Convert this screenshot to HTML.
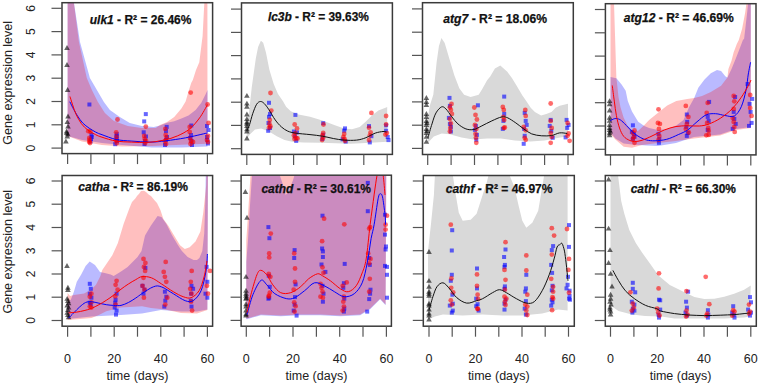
<!DOCTYPE html>
<html><head><meta charset="utf-8"><style>
html,body{margin:0;padding:0;background:#fff;width:760px;height:386px;overflow:hidden;position:relative}
</style></head><body>
<svg width="760" height="386" viewBox="0 0 760 386" style="position:absolute;left:0;top:0">
<defs>
<clipPath id="c0"><rect x="62" y="2.7" width="150.6" height="150.9"/></clipPath>
<clipPath id="c1"><rect x="241.5" y="2.9" width="150.89999999999998" height="151.5"/></clipPath>
<clipPath id="c2"><rect x="422.5" y="2.7" width="150.79999999999995" height="151.8"/></clipPath>
<clipPath id="c3"><rect x="605.4" y="3.7" width="150.60000000000002" height="151.20000000000002"/></clipPath>
<clipPath id="c4"><rect x="62.1" y="175.5" width="150.5" height="150.7"/></clipPath>
<clipPath id="c5"><rect x="241.1" y="175.2" width="150.29999999999998" height="151.0"/></clipPath>
<clipPath id="c6"><rect x="423.3" y="175.5" width="150.99999999999994" height="150.7"/></clipPath>
<clipPath id="c7"><rect x="605.3" y="175.5" width="151.0" height="150.7"/></clipPath>
</defs>
<polygon points="67.6,-20.0 73.0,-20.0 74.0,3.0 80.0,42.0 89.9,78.0 96.9,90.0 103.9,102.0 109.9,110.0 119.8,117.0 129.8,123.0 141.8,126.0 153.8,127.0 160.0,125.6 167.1,122.7 174.2,121.3 181.4,118.5 188.5,115.6 195.6,109.9 201.3,102.8 205.6,94.2 207.5,90.0 207.5,146.5 181.7,147.5 151.8,147.5 121.8,145.0 101.9,143.0 82.0,140.0 67.6,136.0" fill="rgba(0,0,255,0.27)" clip-path="url(#c0)"/>
<polygon points="67.6,-20.0 73.0,-20.0 73.9,3.0 78.9,41.7 86.8,78.0 91.9,90.0 97.9,102.0 104.9,112.9 113.9,120.9 127.8,125.9 141.8,127.9 155.8,127.9 160.0,124.9 167.1,122.0 174.2,117.0 181.4,108.5 185.6,101.4 188.5,91.4 191.3,82.8 192.8,80.0 196.0,70.0 199.3,62.2 202.6,35.9 204.3,3.0 205.5,-20.0 207.4,-20.0 207.5,143.8 181.7,144.8 151.8,146.0 121.8,146.5 101.9,145.0 82.0,141.5 67.6,136.0" fill="rgba(255,0,0,0.25)" clip-path="url(#c0)"/>
<polygon points="67.0,45.1 69.8,50.0 64.2,50.0" fill="rgba(0,0,0,0.6)"/>
<polygon points="67.0,62.1 69.8,67.0 64.2,67.0" fill="rgba(0,0,0,0.6)"/>
<polygon points="67.6,87.1 70.4,92.0 64.8,92.0" fill="rgba(0,0,0,0.6)"/>
<polygon points="68.0,113.5 70.8,118.4 65.2,118.4" fill="rgba(0,0,0,0.6)"/>
<polygon points="67.3,119.2 70.1,124.1 64.5,124.1" fill="rgba(0,0,0,0.6)"/>
<polygon points="68.0,123.5 70.8,128.4 65.2,128.4" fill="rgba(0,0,0,0.6)"/>
<polygon points="66.6,128.5 69.4,133.4 63.8,133.4" fill="rgba(0,0,0,0.6)"/>
<polygon points="67.7,131.4 70.5,136.3 64.9,136.3" fill="rgba(0,0,0,0.6)"/>
<polygon points="67.3,133.5 70.1,138.4 64.5,138.4" fill="rgba(0,0,0,0.6)"/>
<polygon points="66.8,130.1 69.6,135.0 64.0,135.0" fill="rgba(0,0,0,0.6)"/>
<polygon points="65.9,138.5 68.7,143.4 63.1,143.4" fill="rgba(0,0,0,0.6)"/>
<rect x="87.4" y="102.5" width="4" height="4" fill="rgba(0,0,255,0.6)"/>
<rect x="89.4" y="133.0" width="4" height="4" fill="rgba(0,0,255,0.6)"/>
<rect x="89.8" y="135.0" width="4" height="4" fill="rgba(0,0,255,0.6)"/>
<rect x="89.0" y="137.0" width="4" height="4" fill="rgba(0,0,255,0.6)"/>
<rect x="88.5" y="139.5" width="4" height="4" fill="rgba(0,0,255,0.6)"/>
<rect x="114.8" y="132.3" width="4" height="4" fill="rgba(0,0,255,0.6)"/>
<rect x="114.5" y="134.0" width="4" height="4" fill="rgba(0,0,255,0.6)"/>
<rect x="114.8" y="136.5" width="4" height="4" fill="rgba(0,0,255,0.6)"/>
<rect x="113.2" y="142.2" width="4" height="4" fill="rgba(0,0,255,0.6)"/>
<rect x="115.0" y="139.0" width="4" height="4" fill="rgba(0,0,255,0.6)"/>
<rect x="143.8" y="112.1" width="4" height="4" fill="rgba(0,0,255,0.6)"/>
<rect x="142.2" y="119.4" width="4" height="4" fill="rgba(0,0,255,0.6)"/>
<rect x="141.7" y="130.3" width="4" height="4" fill="rgba(0,0,255,0.6)"/>
<rect x="144.0" y="134.5" width="4" height="4" fill="rgba(0,0,255,0.6)"/>
<rect x="143.0" y="139.0" width="4" height="4" fill="rgba(0,0,255,0.6)"/>
<rect x="142.5" y="142.0" width="4" height="4" fill="rgba(0,0,255,0.6)"/>
<rect x="164.7" y="124.9" width="4" height="4" fill="rgba(0,0,255,0.6)"/>
<rect x="164.0" y="129.0" width="4" height="4" fill="rgba(0,0,255,0.6)"/>
<rect x="164.0" y="138.0" width="4" height="4" fill="rgba(0,0,255,0.6)"/>
<rect x="163.0" y="143.0" width="4" height="4" fill="rgba(0,0,255,0.6)"/>
<rect x="165.0" y="135.0" width="4" height="4" fill="rgba(0,0,255,0.6)"/>
<rect x="189.3" y="123.5" width="4" height="4" fill="rgba(0,0,255,0.6)"/>
<rect x="189.0" y="133.0" width="4" height="4" fill="rgba(0,0,255,0.6)"/>
<rect x="189.5" y="139.0" width="4" height="4" fill="rgba(0,0,255,0.6)"/>
<rect x="190.0" y="143.0" width="4" height="4" fill="rgba(0,0,255,0.6)"/>
<rect x="188.5" y="136.0" width="4" height="4" fill="rgba(0,0,255,0.6)"/>
<rect x="205.0" y="124.0" width="4" height="4" fill="rgba(0,0,255,0.6)"/>
<rect x="206.5" y="128.0" width="4" height="4" fill="rgba(0,0,255,0.6)"/>
<rect x="205.5" y="138.0" width="4" height="4" fill="rgba(0,0,255,0.6)"/>
<rect x="206.0" y="141.5" width="4" height="4" fill="rgba(0,0,255,0.6)"/>
<rect x="205.0" y="135.0" width="4" height="4" fill="rgba(0,0,255,0.6)"/>
<circle cx="88.3" cy="131.2" r="2.4" fill="rgba(255,0,0,0.58)"/>
<circle cx="90.4" cy="131.7" r="2.4" fill="rgba(255,0,0,0.58)"/>
<circle cx="89.3" cy="138.0" r="2.4" fill="rgba(255,0,0,0.58)"/>
<circle cx="89.5" cy="140.0" r="2.4" fill="rgba(255,0,0,0.58)"/>
<circle cx="89.3" cy="142.0" r="2.4" fill="rgba(255,0,0,0.58)"/>
<circle cx="90.0" cy="143.0" r="2.4" fill="rgba(255,0,0,0.58)"/>
<circle cx="117.5" cy="119.5" r="2.4" fill="rgba(255,0,0,0.58)"/>
<circle cx="116.2" cy="132.3" r="2.4" fill="rgba(255,0,0,0.58)"/>
<circle cx="116.5" cy="137.0" r="2.4" fill="rgba(255,0,0,0.58)"/>
<circle cx="116.8" cy="143.1" r="2.4" fill="rgba(255,0,0,0.58)"/>
<circle cx="116.0" cy="140.5" r="2.4" fill="rgba(255,0,0,0.58)"/>
<circle cx="145.8" cy="126.6" r="2.4" fill="rgba(255,0,0,0.58)"/>
<circle cx="144.2" cy="135.9" r="2.4" fill="rgba(255,0,0,0.58)"/>
<circle cx="144.7" cy="139.0" r="2.4" fill="rgba(255,0,0,0.58)"/>
<circle cx="145.2" cy="143.1" r="2.4" fill="rgba(255,0,0,0.58)"/>
<circle cx="146.0" cy="141.0" r="2.4" fill="rgba(255,0,0,0.58)"/>
<circle cx="165.3" cy="128.9" r="2.4" fill="rgba(255,0,0,0.58)"/>
<circle cx="165.7" cy="134.9" r="2.4" fill="rgba(255,0,0,0.58)"/>
<circle cx="165.0" cy="141.0" r="2.4" fill="rgba(255,0,0,0.58)"/>
<circle cx="166.0" cy="144.0" r="2.4" fill="rgba(255,0,0,0.58)"/>
<circle cx="166.5" cy="138.0" r="2.4" fill="rgba(255,0,0,0.58)"/>
<circle cx="190.7" cy="92.6" r="2.4" fill="rgba(255,0,0,0.58)"/>
<circle cx="189.7" cy="126.9" r="2.4" fill="rgba(255,0,0,0.58)"/>
<circle cx="189.7" cy="132.0" r="2.4" fill="rgba(255,0,0,0.58)"/>
<circle cx="190.0" cy="138.0" r="2.4" fill="rgba(255,0,0,0.58)"/>
<circle cx="191.0" cy="141.0" r="2.4" fill="rgba(255,0,0,0.58)"/>
<circle cx="193.0" cy="142.0" r="2.4" fill="rgba(255,0,0,0.58)"/>
<circle cx="190.5" cy="144.0" r="2.4" fill="rgba(255,0,0,0.58)"/>
<circle cx="207.6" cy="104.5" r="2.4" fill="rgba(255,0,0,0.58)"/>
<circle cx="208.6" cy="122.9" r="2.4" fill="rgba(255,0,0,0.58)"/>
<circle cx="208.0" cy="136.0" r="2.4" fill="rgba(255,0,0,0.58)"/>
<circle cx="207.0" cy="140.0" r="2.4" fill="rgba(255,0,0,0.58)"/>
<circle cx="208.0" cy="142.0" r="2.4" fill="rgba(255,0,0,0.58)"/>
<path d="M69.8,101.7 C70.5,103.0 72.4,107.0 73.7,109.4 C75.0,111.8 76.0,113.6 77.5,115.9 C79.0,118.2 80.8,121.0 82.7,123.0 C84.7,125.0 87.0,126.7 89.2,128.2 C91.4,129.7 93.6,131.0 95.7,132.1 C97.8,133.2 98.6,133.5 102.0,134.7 C105.4,135.9 111.2,138.4 116.2,139.5 C121.2,140.6 126.2,140.7 131.8,141.1 C137.4,141.5 144.3,142.1 150.0,142.1 C155.7,142.1 159.8,141.5 165.7,140.8 C171.6,140.1 178.7,139.1 185.7,137.8 C192.7,136.5 203.9,133.7 207.6,132.9" fill="none" stroke="#0000ff" stroke-width="1.0" stroke-linejoin="round" clip-path="url(#c0)"/>
<path d="M70.0,96.5 C70.4,97.8 71.4,101.2 72.4,104.2 C73.4,107.2 74.7,111.3 76.2,114.6 C77.7,117.8 79.5,121.1 81.4,123.7 C83.4,126.3 85.5,128.3 87.9,130.1 C90.3,131.9 93.4,133.5 95.7,134.7 C98.0,135.9 98.6,136.1 102.0,137.2 C105.4,138.3 111.2,140.3 116.2,141.1 C121.2,141.9 126.5,141.9 131.8,142.1 C137.1,142.3 142.5,142.7 147.8,142.4 C153.1,142.1 158.7,141.3 163.7,140.2 C168.7,139.1 173.4,137.7 177.7,135.8 C182.0,133.9 186.0,131.9 189.7,128.9 C193.3,125.9 196.6,122.0 199.6,117.9 C202.6,113.8 206.3,106.7 207.6,104.5" fill="none" stroke="#ff0000" stroke-width="1.0" stroke-linejoin="round" clip-path="url(#c0)"/>
<rect x="62" y="2.7" width="150.6" height="150.9" fill="none" stroke="#3a3a3a" stroke-width="1.5"/>
<line x1="51.5" y1="148.1" x2="62" y2="148.1" stroke="#555" stroke-width="1.2"/>
<line x1="51.5" y1="124.8" x2="62" y2="124.8" stroke="#555" stroke-width="1.2"/>
<line x1="51.5" y1="101.5" x2="62" y2="101.5" stroke="#555" stroke-width="1.2"/>
<line x1="51.5" y1="78.2" x2="62" y2="78.2" stroke="#555" stroke-width="1.2"/>
<line x1="51.5" y1="54.9" x2="62" y2="54.9" stroke="#555" stroke-width="1.2"/>
<line x1="51.5" y1="31.6" x2="62" y2="31.6" stroke="#555" stroke-width="1.2"/>
<line x1="51.5" y1="8.3" x2="62" y2="8.3" stroke="#555" stroke-width="1.2"/>
<line x1="67.6" y1="153.6" x2="67.6" y2="164.1" stroke="#555" stroke-width="1.2"/>
<line x1="90.9" y1="153.6" x2="90.9" y2="164.1" stroke="#555" stroke-width="1.2"/>
<line x1="114.2" y1="153.6" x2="114.2" y2="164.1" stroke="#555" stroke-width="1.2"/>
<line x1="137.5" y1="153.6" x2="137.5" y2="164.1" stroke="#555" stroke-width="1.2"/>
<line x1="160.8" y1="153.6" x2="160.8" y2="164.1" stroke="#555" stroke-width="1.2"/>
<line x1="184.1" y1="153.6" x2="184.1" y2="164.1" stroke="#555" stroke-width="1.2"/>
<line x1="207.4" y1="153.6" x2="207.4" y2="164.1" stroke="#555" stroke-width="1.2"/>
<text x="89.8" y="24" textLength="101.6" lengthAdjust="spacingAndGlyphs" font-family="Liberation Sans" font-weight="bold" font-size="12.4" fill="#111" stroke="#111" stroke-width="0.25"><tspan font-style="italic">ulk1</tspan> - R² = 26.46%</text>
<polygon points="246.8,135.0 247.5,120.0 249.0,112.5 251.8,86.9 253.8,72.7 255.8,58.4 258.1,47.1 260.9,40.8 263.2,42.8 266.0,52.7 269.4,69.8 273.7,84.0 278.0,94.0 283.0,101.2 286.1,106.7 290.8,111.3 298.5,114.4 310.0,116.8 322.4,120.6 334.9,125.3 344.2,128.4 352.0,129.2 359.7,126.9 365.9,121.4 372.2,115.2 378.4,110.5 386.1,107.4 387.2,107.0 387.2,141.8 370.7,142.8 350.7,143.8 320.8,142.8 303.2,142.4 292.3,141.7 284.5,140.1 276.8,136.2 269.0,131.5 261.2,128.4 255.0,129.5 250.3,133.9 246.8,138.5" fill="#d9d9d9" clip-path="url(#c1)"/>
<polygon points="246.9,92.9 249.7,97.8 244.1,97.8" fill="rgba(0,0,0,0.6)"/>
<polygon points="246.9,100.7 249.7,105.6 244.1,105.6" fill="rgba(0,0,0,0.6)"/>
<polygon points="246.9,103.8 249.7,108.7 244.1,108.7" fill="rgba(0,0,0,0.6)"/>
<polygon points="246.9,111.5 249.7,116.4 244.1,116.4" fill="rgba(0,0,0,0.6)"/>
<polygon points="246.9,116.2 249.7,121.1 244.1,121.1" fill="rgba(0,0,0,0.6)"/>
<polygon points="246.9,119.3 249.7,124.2 244.1,124.2" fill="rgba(0,0,0,0.6)"/>
<polygon points="246.9,120.9 249.7,125.8 244.1,125.8" fill="rgba(0,0,0,0.6)"/>
<polygon points="246.9,123.2 249.7,128.1 244.1,128.1" fill="rgba(0,0,0,0.6)"/>
<polygon points="246.9,126.3 249.7,131.2 244.1,131.2" fill="rgba(0,0,0,0.6)"/>
<polygon points="246.9,128.6 249.7,133.5 244.1,133.5" fill="rgba(0,0,0,0.6)"/>
<polygon points="246.9,135.6 249.7,140.5 244.1,140.5" fill="rgba(0,0,0,0.6)"/>
<rect x="267.0" y="100.8" width="4" height="4" fill="rgba(0,0,255,0.6)"/>
<rect x="268.0" y="112.0" width="4" height="4" fill="rgba(0,0,255,0.6)"/>
<rect x="267.0" y="114.8" width="4" height="4" fill="rgba(0,0,255,0.6)"/>
<rect x="266.5" y="121.0" width="4" height="4" fill="rgba(0,0,255,0.6)"/>
<rect x="266.2" y="128.8" width="4" height="4" fill="rgba(0,0,255,0.6)"/>
<rect x="268.0" y="126.0" width="4" height="4" fill="rgba(0,0,255,0.6)"/>
<rect x="293.4" y="112.9" width="4" height="4" fill="rgba(0,0,255,0.6)"/>
<rect x="291.9" y="129.5" width="4" height="4" fill="rgba(0,0,255,0.6)"/>
<rect x="295.0" y="130.5" width="4" height="4" fill="rgba(0,0,255,0.6)"/>
<rect x="293.0" y="134.5" width="4" height="4" fill="rgba(0,0,255,0.6)"/>
<rect x="294.2" y="138.9" width="4" height="4" fill="rgba(0,0,255,0.6)"/>
<rect x="321.2" y="121.2" width="4" height="4" fill="rgba(0,0,255,0.6)"/>
<rect x="321.2" y="132.6" width="4" height="4" fill="rgba(0,0,255,0.6)"/>
<rect x="320.4" y="137.0" width="4" height="4" fill="rgba(0,0,255,0.6)"/>
<rect x="343.0" y="126.4" width="4" height="4" fill="rgba(0,0,255,0.6)"/>
<rect x="342.2" y="128.7" width="4" height="4" fill="rgba(0,0,255,0.6)"/>
<rect x="340.6" y="137.3" width="4" height="4" fill="rgba(0,0,255,0.6)"/>
<rect x="343.7" y="139.6" width="4" height="4" fill="rgba(0,0,255,0.6)"/>
<rect x="367.0" y="124.1" width="4" height="4" fill="rgba(0,0,255,0.6)"/>
<rect x="369.4" y="134.2" width="4" height="4" fill="rgba(0,0,255,0.6)"/>
<rect x="367.8" y="140.4" width="4" height="4" fill="rgba(0,0,255,0.6)"/>
<rect x="384.1" y="123.3" width="4" height="4" fill="rgba(0,0,255,0.6)"/>
<rect x="384.1" y="128.7" width="4" height="4" fill="rgba(0,0,255,0.6)"/>
<rect x="385.7" y="135.0" width="4" height="4" fill="rgba(0,0,255,0.6)"/>
<rect x="386.5" y="138.1" width="4" height="4" fill="rgba(0,0,255,0.6)"/>
<circle cx="270.5" cy="93.0" r="2.4" fill="rgba(255,0,0,0.58)"/>
<circle cx="271.3" cy="110.6" r="2.4" fill="rgba(255,0,0,0.58)"/>
<circle cx="269.8" cy="119.9" r="2.4" fill="rgba(255,0,0,0.58)"/>
<circle cx="269.0" cy="127.7" r="2.4" fill="rgba(255,0,0,0.58)"/>
<circle cx="270.5" cy="126.5" r="2.4" fill="rgba(255,0,0,0.58)"/>
<circle cx="269.5" cy="124.0" r="2.4" fill="rgba(255,0,0,0.58)"/>
<circle cx="294.7" cy="124.5" r="2.4" fill="rgba(255,0,0,0.58)"/>
<circle cx="297.0" cy="128.4" r="2.4" fill="rgba(255,0,0,0.58)"/>
<circle cx="295.4" cy="133.1" r="2.4" fill="rgba(255,0,0,0.58)"/>
<circle cx="293.9" cy="135.4" r="2.4" fill="rgba(255,0,0,0.58)"/>
<circle cx="296.2" cy="137.8" r="2.4" fill="rgba(255,0,0,0.58)"/>
<circle cx="297.5" cy="138.5" r="2.4" fill="rgba(255,0,0,0.58)"/>
<circle cx="294.5" cy="139.0" r="2.4" fill="rgba(255,0,0,0.58)"/>
<circle cx="323.5" cy="124.5" r="2.4" fill="rgba(255,0,0,0.58)"/>
<circle cx="323.2" cy="133.0" r="2.4" fill="rgba(255,0,0,0.58)"/>
<circle cx="322.4" cy="135.4" r="2.4" fill="rgba(255,0,0,0.58)"/>
<circle cx="323.2" cy="137.7" r="2.4" fill="rgba(255,0,0,0.58)"/>
<circle cx="322.1" cy="140.0" r="2.4" fill="rgba(255,0,0,0.58)"/>
<circle cx="344.2" cy="133.9" r="2.4" fill="rgba(255,0,0,0.58)"/>
<circle cx="343.4" cy="137.0" r="2.4" fill="rgba(255,0,0,0.58)"/>
<circle cx="345.0" cy="140.8" r="2.4" fill="rgba(255,0,0,0.58)"/>
<circle cx="344.5" cy="139.0" r="2.4" fill="rgba(255,0,0,0.58)"/>
<circle cx="371.4" cy="112.9" r="2.4" fill="rgba(255,0,0,0.58)"/>
<circle cx="369.0" cy="127.7" r="2.4" fill="rgba(255,0,0,0.58)"/>
<circle cx="370.6" cy="132.3" r="2.4" fill="rgba(255,0,0,0.58)"/>
<circle cx="369.8" cy="135.4" r="2.4" fill="rgba(255,0,0,0.58)"/>
<circle cx="369.0" cy="140.1" r="2.4" fill="rgba(255,0,0,0.58)"/>
<circle cx="386.1" cy="116.0" r="2.4" fill="rgba(255,0,0,0.58)"/>
<circle cx="386.1" cy="124.5" r="2.4" fill="rgba(255,0,0,0.58)"/>
<circle cx="386.9" cy="133.1" r="2.4" fill="rgba(255,0,0,0.58)"/>
<circle cx="385.4" cy="134.6" r="2.4" fill="rgba(255,0,0,0.58)"/>
<path d="M247.2,130.0 C247.6,129.1 248.7,127.2 249.6,124.5 C250.5,121.8 251.5,117.1 252.7,113.7 C253.9,110.3 255.3,106.3 256.6,104.3 C257.9,102.3 259.1,101.6 260.4,101.5 C261.7,101.4 262.9,102.2 264.3,103.6 C265.7,105.0 267.2,107.1 269.0,109.8 C270.8,112.5 273.1,117.1 275.2,119.9 C277.3,122.8 279.3,125.0 281.4,126.9 C283.5,128.8 285.4,130.1 287.7,131.1 C290.0,132.1 291.7,132.5 295.4,133.1 C299.1,133.7 305.5,134.1 310.0,134.6 C314.5,135.1 318.5,135.5 322.4,136.2 C326.3,136.8 329.7,137.8 333.3,138.5 C336.9,139.2 340.3,139.8 344.2,140.1 C348.1,140.4 353.0,140.5 356.6,140.1 C360.2,139.7 362.8,138.9 365.9,137.7 C369.0,136.5 372.4,134.1 375.3,133.1 C378.2,132.1 381.1,131.7 383.0,131.5 C384.9,131.3 385.9,131.9 386.5,132.0" fill="none" stroke="#111" stroke-width="1.0" stroke-linejoin="round" clip-path="url(#c1)"/>
<rect x="241.5" y="2.9" width="150.89999999999998" height="151.5" fill="none" stroke="#3a3a3a" stroke-width="1.5"/>
<line x1="231.0" y1="148.7" x2="241.5" y2="148.7" stroke="#555" stroke-width="1.2"/>
<line x1="231.0" y1="125.4" x2="241.5" y2="125.4" stroke="#555" stroke-width="1.2"/>
<line x1="231.0" y1="102.2" x2="241.5" y2="102.2" stroke="#555" stroke-width="1.2"/>
<line x1="231.0" y1="78.9" x2="241.5" y2="78.9" stroke="#555" stroke-width="1.2"/>
<line x1="231.0" y1="55.6" x2="241.5" y2="55.6" stroke="#555" stroke-width="1.2"/>
<line x1="231.0" y1="32.4" x2="241.5" y2="32.4" stroke="#555" stroke-width="1.2"/>
<line x1="231.0" y1="9.1" x2="241.5" y2="9.1" stroke="#555" stroke-width="1.2"/>
<line x1="246.8" y1="154.4" x2="246.8" y2="164.9" stroke="#555" stroke-width="1.2"/>
<line x1="270.2" y1="154.4" x2="270.2" y2="164.9" stroke="#555" stroke-width="1.2"/>
<line x1="293.6" y1="154.4" x2="293.6" y2="164.9" stroke="#555" stroke-width="1.2"/>
<line x1="317.0" y1="154.4" x2="317.0" y2="164.9" stroke="#555" stroke-width="1.2"/>
<line x1="340.4" y1="154.4" x2="340.4" y2="164.9" stroke="#555" stroke-width="1.2"/>
<line x1="363.8" y1="154.4" x2="363.8" y2="164.9" stroke="#555" stroke-width="1.2"/>
<line x1="387.2" y1="154.4" x2="387.2" y2="164.9" stroke="#555" stroke-width="1.2"/>
<text x="267.9" y="21" textLength="101" lengthAdjust="spacingAndGlyphs" font-family="Liberation Sans" font-weight="bold" font-size="12.4" fill="#111" stroke="#111" stroke-width="0.25"><tspan font-style="italic">lc3b</tspan> - R² = 39.63%</text>
<polygon points="427.7,118.0 430.0,105.0 433.3,94.8 436.6,62.4 438.9,46.2 441.4,38.1 444.7,43.0 449.5,59.2 454.4,75.4 459.3,88.3 464.1,94.8 470.6,97.1 478.7,94.8 482.4,88.8 487.1,80.3 490.2,76.4 494.9,68.6 500.3,65.5 507.3,71.7 511.9,78.0 516.2,85.0 519.3,90.2 522.4,95.4 526.6,101.6 530.7,107.8 534.9,111.9 541.1,115.6 546.3,114.0 551.5,111.9 555.6,107.8 559.7,105.7 563.9,104.7 568.0,103.7 568.0,136.6 560.1,137.6 544.4,140.5 530.5,141.5 514.8,140.5 500.9,138.6 487.1,138.6 473.3,139.5 461.5,137.6 449.6,134.2 441.7,133.6 433.8,136.6 427.7,143.0" fill="#d9d9d9" clip-path="url(#c2)"/>
<polygon points="426.4,95.0 429.2,99.9 423.6,99.9" fill="rgba(0,0,0,0.6)"/>
<polygon points="426.4,99.0 429.2,103.9 423.6,103.9" fill="rgba(0,0,0,0.6)"/>
<polygon points="426.4,102.0 429.2,106.9 423.6,106.9" fill="rgba(0,0,0,0.6)"/>
<polygon points="426.4,111.0 429.2,115.9 423.6,115.9" fill="rgba(0,0,0,0.6)"/>
<polygon points="426.4,114.0 429.2,118.9 423.6,118.9" fill="rgba(0,0,0,0.6)"/>
<polygon points="426.4,118.0 429.2,122.9 423.6,122.9" fill="rgba(0,0,0,0.6)"/>
<polygon points="426.8,120.0 429.6,124.9 424.0,124.9" fill="rgba(0,0,0,0.6)"/>
<polygon points="426.4,122.0 429.2,126.9 423.6,126.9" fill="rgba(0,0,0,0.6)"/>
<polygon points="426.4,126.0 429.2,130.9 423.6,130.9" fill="rgba(0,0,0,0.6)"/>
<polygon points="426.8,128.0 429.6,132.9 424.0,132.9" fill="rgba(0,0,0,0.6)"/>
<polygon points="426.4,130.0 429.2,134.9 423.6,134.9" fill="rgba(0,0,0,0.6)"/>
<polygon points="426.4,133.9 429.2,138.8 423.6,138.8" fill="rgba(0,0,0,0.6)"/>
<polygon points="426.4,138.9 429.2,143.8 423.6,143.8" fill="rgba(0,0,0,0.6)"/>
<rect x="447.5" y="95.9" width="4" height="4" fill="rgba(0,0,255,0.6)"/>
<rect x="447.9" y="103.9" width="4" height="4" fill="rgba(0,0,255,0.6)"/>
<rect x="446.9" y="115.9" width="4" height="4" fill="rgba(0,0,255,0.6)"/>
<rect x="447.9" y="121.9" width="4" height="4" fill="rgba(0,0,255,0.6)"/>
<rect x="448.9" y="124.9" width="4" height="4" fill="rgba(0,0,255,0.6)"/>
<rect x="448.9" y="129.5" width="4" height="4" fill="rgba(0,0,255,0.6)"/>
<rect x="475.9" y="103.3" width="4" height="4" fill="rgba(0,0,255,0.6)"/>
<rect x="473.9" y="123.9" width="4" height="4" fill="rgba(0,0,255,0.6)"/>
<rect x="472.9" y="127.9" width="4" height="4" fill="rgba(0,0,255,0.6)"/>
<rect x="474.9" y="132.9" width="4" height="4" fill="rgba(0,0,255,0.6)"/>
<rect x="474.3" y="137.8" width="4" height="4" fill="rgba(0,0,255,0.6)"/>
<rect x="502.2" y="94.6" width="4" height="4" fill="rgba(0,0,255,0.6)"/>
<rect x="502.2" y="111.9" width="4" height="4" fill="rgba(0,0,255,0.6)"/>
<rect x="501.4" y="118.9" width="4" height="4" fill="rgba(0,0,255,0.6)"/>
<rect x="500.8" y="126.9" width="4" height="4" fill="rgba(0,0,255,0.6)"/>
<rect x="522.7" y="110.9" width="4" height="4" fill="rgba(0,0,255,0.6)"/>
<rect x="523.7" y="118.9" width="4" height="4" fill="rgba(0,0,255,0.6)"/>
<rect x="524.7" y="122.9" width="4" height="4" fill="rgba(0,0,255,0.6)"/>
<rect x="522.1" y="126.9" width="4" height="4" fill="rgba(0,0,255,0.6)"/>
<rect x="522.7" y="133.8" width="4" height="4" fill="rgba(0,0,255,0.6)"/>
<rect x="521.7" y="141.8" width="4" height="4" fill="rgba(0,0,255,0.6)"/>
<rect x="548.7" y="117.9" width="4" height="4" fill="rgba(0,0,255,0.6)"/>
<rect x="547.7" y="123.9" width="4" height="4" fill="rgba(0,0,255,0.6)"/>
<rect x="549.3" y="128.9" width="4" height="4" fill="rgba(0,0,255,0.6)"/>
<rect x="550.7" y="135.8" width="4" height="4" fill="rgba(0,0,255,0.6)"/>
<rect x="564.6" y="117.9" width="4" height="4" fill="rgba(0,0,255,0.6)"/>
<rect x="566.6" y="122.9" width="4" height="4" fill="rgba(0,0,255,0.6)"/>
<rect x="565.2" y="125.9" width="4" height="4" fill="rgba(0,0,255,0.6)"/>
<rect x="563.6" y="135.4" width="4" height="4" fill="rgba(0,0,255,0.6)"/>
<circle cx="451.5" cy="103.9" r="2.4" fill="rgba(255,0,0,0.58)"/>
<circle cx="449.9" cy="107.5" r="2.4" fill="rgba(255,0,0,0.58)"/>
<circle cx="450.9" cy="109.9" r="2.4" fill="rgba(255,0,0,0.58)"/>
<circle cx="451.9" cy="113.9" r="2.4" fill="rgba(255,0,0,0.58)"/>
<circle cx="449.9" cy="118.9" r="2.4" fill="rgba(255,0,0,0.58)"/>
<circle cx="450.9" cy="123.5" r="2.4" fill="rgba(255,0,0,0.58)"/>
<circle cx="450.3" cy="127.9" r="2.4" fill="rgba(255,0,0,0.58)"/>
<circle cx="449.9" cy="131.5" r="2.4" fill="rgba(255,0,0,0.58)"/>
<circle cx="474.3" cy="107.5" r="2.4" fill="rgba(255,0,0,0.58)"/>
<circle cx="475.5" cy="114.9" r="2.4" fill="rgba(255,0,0,0.58)"/>
<circle cx="476.9" cy="119.5" r="2.4" fill="rgba(255,0,0,0.58)"/>
<circle cx="474.9" cy="124.9" r="2.4" fill="rgba(255,0,0,0.58)"/>
<circle cx="476.3" cy="128.9" r="2.4" fill="rgba(255,0,0,0.58)"/>
<circle cx="475.5" cy="133.9" r="2.4" fill="rgba(255,0,0,0.58)"/>
<circle cx="475.9" cy="137.8" r="2.4" fill="rgba(255,0,0,0.58)"/>
<circle cx="476.3" cy="142.8" r="2.4" fill="rgba(255,0,0,0.58)"/>
<circle cx="502.8" cy="106.9" r="2.4" fill="rgba(255,0,0,0.58)"/>
<circle cx="503.8" cy="109.9" r="2.4" fill="rgba(255,0,0,0.58)"/>
<circle cx="503.4" cy="116.9" r="2.4" fill="rgba(255,0,0,0.58)"/>
<circle cx="504.2" cy="119.9" r="2.4" fill="rgba(255,0,0,0.58)"/>
<circle cx="503.8" cy="127.9" r="2.4" fill="rgba(255,0,0,0.58)"/>
<circle cx="504.8" cy="127.5" r="2.4" fill="rgba(255,0,0,0.58)"/>
<circle cx="525.3" cy="109.9" r="2.4" fill="rgba(255,0,0,0.58)"/>
<circle cx="525.7" cy="115.9" r="2.4" fill="rgba(255,0,0,0.58)"/>
<circle cx="523.7" cy="126.9" r="2.4" fill="rgba(255,0,0,0.58)"/>
<circle cx="525.7" cy="130.3" r="2.4" fill="rgba(255,0,0,0.58)"/>
<circle cx="524.7" cy="137.8" r="2.4" fill="rgba(255,0,0,0.58)"/>
<circle cx="525.7" cy="139.8" r="2.4" fill="rgba(255,0,0,0.58)"/>
<circle cx="550.7" cy="103.5" r="2.4" fill="rgba(255,0,0,0.58)"/>
<circle cx="550.7" cy="120.9" r="2.4" fill="rgba(255,0,0,0.58)"/>
<circle cx="551.7" cy="127.9" r="2.4" fill="rgba(255,0,0,0.58)"/>
<circle cx="550.7" cy="132.9" r="2.4" fill="rgba(255,0,0,0.58)"/>
<circle cx="551.7" cy="136.8" r="2.4" fill="rgba(255,0,0,0.58)"/>
<circle cx="550.7" cy="142.8" r="2.4" fill="rgba(255,0,0,0.58)"/>
<circle cx="567.6" cy="122.9" r="2.4" fill="rgba(255,0,0,0.58)"/>
<circle cx="568.6" cy="133.5" r="2.4" fill="rgba(255,0,0,0.58)"/>
<circle cx="567.6" cy="135.8" r="2.4" fill="rgba(255,0,0,0.58)"/>
<circle cx="569.6" cy="140.8" r="2.4" fill="rgba(255,0,0,0.58)"/>
<path d="M428.0,137.8 C428.6,135.5 430.6,128.0 432.0,123.9 C433.3,119.7 434.4,115.7 436.0,112.9 C437.6,110.1 439.9,107.6 441.5,106.9 C443.2,106.3 444.2,107.3 445.9,108.9 C447.7,110.6 449.9,114.4 451.9,116.9 C453.9,119.4 455.6,121.9 457.9,123.9 C460.2,125.9 463.2,127.9 465.9,128.9 C468.5,129.8 471.2,130.0 473.9,129.5 C476.5,129.0 478.9,127.3 481.8,125.9 C484.8,124.4 488.5,122.4 491.8,120.9 C495.1,119.4 499.1,117.4 501.8,116.9 C504.5,116.4 505.4,116.9 507.8,117.9 C510.1,118.9 513.1,121.1 515.8,122.9 C518.4,124.7 521.1,127.0 523.7,128.9 C526.4,130.7 528.7,132.7 531.7,133.9 C534.7,135.0 538.4,135.6 541.7,135.8 C545.0,136.1 548.7,135.9 551.7,135.5 C554.7,135.0 557.0,133.2 559.6,132.9 C562.2,132.5 566.0,133.4 567.2,133.5" fill="none" stroke="#111" stroke-width="1.0" stroke-linejoin="round" clip-path="url(#c2)"/>
<rect x="422.5" y="2.7" width="150.79999999999995" height="151.8" fill="none" stroke="#3a3a3a" stroke-width="1.5"/>
<line x1="412.0" y1="148.4" x2="422.5" y2="148.4" stroke="#555" stroke-width="1.2"/>
<line x1="412.0" y1="125.2" x2="422.5" y2="125.2" stroke="#555" stroke-width="1.2"/>
<line x1="412.0" y1="101.9" x2="422.5" y2="101.9" stroke="#555" stroke-width="1.2"/>
<line x1="412.0" y1="78.7" x2="422.5" y2="78.7" stroke="#555" stroke-width="1.2"/>
<line x1="412.0" y1="55.4" x2="422.5" y2="55.4" stroke="#555" stroke-width="1.2"/>
<line x1="412.0" y1="32.2" x2="422.5" y2="32.2" stroke="#555" stroke-width="1.2"/>
<line x1="412.0" y1="8.9" x2="422.5" y2="8.9" stroke="#555" stroke-width="1.2"/>
<line x1="427.7" y1="154.5" x2="427.7" y2="165.0" stroke="#555" stroke-width="1.2"/>
<line x1="451.1" y1="154.5" x2="451.1" y2="165.0" stroke="#555" stroke-width="1.2"/>
<line x1="474.5" y1="154.5" x2="474.5" y2="165.0" stroke="#555" stroke-width="1.2"/>
<line x1="497.9" y1="154.5" x2="497.9" y2="165.0" stroke="#555" stroke-width="1.2"/>
<line x1="521.2" y1="154.5" x2="521.2" y2="165.0" stroke="#555" stroke-width="1.2"/>
<line x1="544.6" y1="154.5" x2="544.6" y2="165.0" stroke="#555" stroke-width="1.2"/>
<line x1="568.0" y1="154.5" x2="568.0" y2="165.0" stroke="#555" stroke-width="1.2"/>
<text x="443.3" y="22.9" textLength="103.7" lengthAdjust="spacingAndGlyphs" font-family="Liberation Sans" font-weight="bold" font-size="12.4" fill="#111" stroke="#111" stroke-width="0.25"><tspan font-style="italic">atg7</tspan> - R² = 18.06%</text>
<polygon points="610.5,77.0 616.4,78.3 621.6,84.5 625.7,90.7 627.8,101.1 632.0,111.5 638.2,121.8 644.4,126.0 649.1,128.0 658.1,130.0 667.2,129.0 676.3,125.4 683.5,119.9 689.0,107.2 694.2,98.1 698.3,87.7 704.5,79.4 710.8,73.2 717.0,70.1 721.1,71.1 725.3,76.3 727.4,77.4 731.5,69.1 735.7,58.7 739.8,48.3 742.9,40.0 744.1,38.8 747.1,12.9 748.1,3.0 749.0,-20.0 750.8,-20.0 750.8,127.0 736.0,129.0 720.0,134.5 694.0,137.0 676.0,143.0 658.0,146.0 646.5,145.6 632.0,144.6 623.7,143.6 615.4,138.4 610.5,132.2" fill="rgba(0,0,255,0.27)" clip-path="url(#c3)"/>
<polygon points="610.5,-20.0 613.0,-20.0 614.0,3.0 616.4,78.3 617.4,86.6 618.5,96.9 620.5,107.3 623.7,117.7 627.8,126.0 632.0,130.1 638.0,131.0 644.4,125.0 649.1,119.9 658.1,112.7 667.2,105.4 676.3,100.9 687.2,99.0 694.2,98.1 702.0,96.0 710.8,91.9 721.1,85.7 727.4,77.4 728.4,69.1 731.5,60.8 733.6,52.5 736.7,44.2 738.8,40.0 742.1,28.8 745.1,12.9 746.5,3.0 747.0,-20.0 750.8,-20.0 750.8,128.0 736.0,130.0 720.0,135.5 694.0,138.5 676.0,141.0 658.0,143.0 642.0,145.0 632.0,147.7 623.7,146.7 615.4,139.5 610.5,134.0" fill="rgba(255,0,0,0.25)" clip-path="url(#c3)"/>
<polygon points="609.6,98.2 612.4,103.1 606.8,103.1" fill="rgba(0,0,0,0.6)"/>
<polygon points="609.6,101.3 612.4,106.2 606.8,106.2" fill="rgba(0,0,0,0.6)"/>
<polygon points="609.6,107.5 612.4,112.4 606.8,112.4" fill="rgba(0,0,0,0.6)"/>
<polygon points="609.6,114.8 612.4,119.7 606.8,119.7" fill="rgba(0,0,0,0.6)"/>
<polygon points="609.6,117.9 612.4,122.8 606.8,122.8" fill="rgba(0,0,0,0.6)"/>
<polygon points="609.6,122.0 612.4,126.9 606.8,126.9" fill="rgba(0,0,0,0.6)"/>
<polygon points="609.6,125.1 612.4,130.0 606.8,130.0" fill="rgba(0,0,0,0.6)"/>
<polygon points="609.6,127.2 612.4,132.1 606.8,132.1" fill="rgba(0,0,0,0.6)"/>
<polygon points="609.6,130.3 612.4,135.2 606.8,135.2" fill="rgba(0,0,0,0.6)"/>
<polygon points="609.6,132.4 612.4,137.3 606.8,137.3" fill="rgba(0,0,0,0.6)"/>
<polygon points="610.3,128.6 613.1,133.5 607.5,133.5" fill="rgba(0,0,0,0.6)"/>
<rect x="630.9" y="123.3" width="4" height="4" fill="rgba(0,0,255,0.6)"/>
<rect x="629.9" y="129.9" width="4" height="4" fill="rgba(0,0,255,0.6)"/>
<rect x="631.9" y="131.9" width="4" height="4" fill="rgba(0,0,255,0.6)"/>
<rect x="630.9" y="136.8" width="4" height="4" fill="rgba(0,0,255,0.6)"/>
<rect x="632.5" y="134.8" width="4" height="4" fill="rgba(0,0,255,0.6)"/>
<rect x="656.5" y="131.9" width="4" height="4" fill="rgba(0,0,255,0.6)"/>
<rect x="657.3" y="136.8" width="4" height="4" fill="rgba(0,0,255,0.6)"/>
<rect x="656.9" y="140.8" width="4" height="4" fill="rgba(0,0,255,0.6)"/>
<rect x="684.8" y="112.5" width="4" height="4" fill="rgba(0,0,255,0.6)"/>
<rect x="685.2" y="119.9" width="4" height="4" fill="rgba(0,0,255,0.6)"/>
<rect x="684.4" y="124.9" width="4" height="4" fill="rgba(0,0,255,0.6)"/>
<rect x="685.8" y="130.9" width="4" height="4" fill="rgba(0,0,255,0.6)"/>
<rect x="684.8" y="133.9" width="4" height="4" fill="rgba(0,0,255,0.6)"/>
<rect x="707.1" y="99.9" width="4" height="4" fill="rgba(0,0,255,0.6)"/>
<rect x="705.7" y="114.9" width="4" height="4" fill="rgba(0,0,255,0.6)"/>
<rect x="706.7" y="118.9" width="4" height="4" fill="rgba(0,0,255,0.6)"/>
<rect x="705.7" y="127.9" width="4" height="4" fill="rgba(0,0,255,0.6)"/>
<rect x="733.1" y="95.0" width="4" height="4" fill="rgba(0,0,255,0.6)"/>
<rect x="731.7" y="109.9" width="4" height="4" fill="rgba(0,0,255,0.6)"/>
<rect x="732.3" y="116.9" width="4" height="4" fill="rgba(0,0,255,0.6)"/>
<rect x="733.7" y="121.9" width="4" height="4" fill="rgba(0,0,255,0.6)"/>
<rect x="730.7" y="126.9" width="4" height="4" fill="rgba(0,0,255,0.6)"/>
<rect x="745.6" y="82.0" width="4" height="4" fill="rgba(0,0,255,0.6)"/>
<rect x="750.2" y="96.9" width="4" height="4" fill="rgba(0,0,255,0.6)"/>
<rect x="747.6" y="101.9" width="4" height="4" fill="rgba(0,0,255,0.6)"/>
<rect x="748.6" y="109.9" width="4" height="4" fill="rgba(0,0,255,0.6)"/>
<rect x="749.6" y="120.9" width="4" height="4" fill="rgba(0,0,255,0.6)"/>
<rect x="747.0" y="123.9" width="4" height="4" fill="rgba(0,0,255,0.6)"/>
<circle cx="634.5" cy="130.5" r="2.4" fill="rgba(255,0,0,0.58)"/>
<circle cx="632.9" cy="132.9" r="2.4" fill="rgba(255,0,0,0.58)"/>
<circle cx="633.9" cy="136.8" r="2.4" fill="rgba(255,0,0,0.58)"/>
<circle cx="632.9" cy="138.8" r="2.4" fill="rgba(255,0,0,0.58)"/>
<circle cx="634.5" cy="142.8" r="2.4" fill="rgba(255,0,0,0.58)"/>
<circle cx="658.5" cy="109.3" r="2.4" fill="rgba(255,0,0,0.58)"/>
<circle cx="657.9" cy="122.9" r="2.4" fill="rgba(255,0,0,0.58)"/>
<circle cx="659.9" cy="123.9" r="2.4" fill="rgba(255,0,0,0.58)"/>
<circle cx="658.9" cy="128.9" r="2.4" fill="rgba(255,0,0,0.58)"/>
<circle cx="659.3" cy="135.9" r="2.4" fill="rgba(255,0,0,0.58)"/>
<circle cx="658.5" cy="139.8" r="2.4" fill="rgba(255,0,0,0.58)"/>
<circle cx="685.8" cy="105.9" r="2.4" fill="rgba(255,0,0,0.58)"/>
<circle cx="688.4" cy="116.9" r="2.4" fill="rgba(255,0,0,0.58)"/>
<circle cx="686.8" cy="123.9" r="2.4" fill="rgba(255,0,0,0.58)"/>
<circle cx="685.8" cy="128.9" r="2.4" fill="rgba(255,0,0,0.58)"/>
<circle cx="688.8" cy="132.5" r="2.4" fill="rgba(255,0,0,0.58)"/>
<circle cx="707.7" cy="102.9" r="2.4" fill="rgba(255,0,0,0.58)"/>
<circle cx="706.7" cy="112.9" r="2.4" fill="rgba(255,0,0,0.58)"/>
<circle cx="707.1" cy="122.9" r="2.4" fill="rgba(255,0,0,0.58)"/>
<circle cx="708.3" cy="127.9" r="2.4" fill="rgba(255,0,0,0.58)"/>
<circle cx="708.7" cy="130.9" r="2.4" fill="rgba(255,0,0,0.58)"/>
<circle cx="706.3" cy="135.3" r="2.4" fill="rgba(255,0,0,0.58)"/>
<circle cx="708.7" cy="134.9" r="2.4" fill="rgba(255,0,0,0.58)"/>
<circle cx="733.7" cy="96.0" r="2.4" fill="rgba(255,0,0,0.58)"/>
<circle cx="734.3" cy="101.3" r="2.4" fill="rgba(255,0,0,0.58)"/>
<circle cx="733.7" cy="108.9" r="2.4" fill="rgba(255,0,0,0.58)"/>
<circle cx="732.7" cy="117.9" r="2.4" fill="rgba(255,0,0,0.58)"/>
<circle cx="733.7" cy="121.9" r="2.4" fill="rgba(255,0,0,0.58)"/>
<circle cx="734.3" cy="126.9" r="2.4" fill="rgba(255,0,0,0.58)"/>
<circle cx="734.7" cy="131.9" r="2.4" fill="rgba(255,0,0,0.58)"/>
<circle cx="750.2" cy="95.0" r="2.4" fill="rgba(255,0,0,0.58)"/>
<circle cx="750.2" cy="107.9" r="2.4" fill="rgba(255,0,0,0.58)"/>
<circle cx="751.6" cy="115.9" r="2.4" fill="rgba(255,0,0,0.58)"/>
<path d="M610.2,120.8 C610.9,120.5 613.1,119.0 614.3,118.7 C615.5,118.4 616.2,118.4 617.4,118.7 C618.6,119.0 619.9,119.4 621.6,120.8 C623.3,122.2 625.7,124.9 627.8,127.0 C629.9,129.1 631.9,131.5 634.0,133.2 C636.1,134.9 638.1,136.3 640.2,137.4 C642.3,138.5 644.0,139.4 646.5,140.0 C649.0,140.6 651.6,140.9 655.0,140.8 C658.4,140.7 662.8,140.3 666.7,139.3 C670.6,138.3 674.8,136.2 678.3,134.6 C681.8,133.0 684.6,132.1 687.7,130.0 C690.8,127.9 693.9,124.3 697.0,121.8 C700.1,119.3 703.2,116.1 706.3,114.8 C709.4,113.5 712.5,113.6 715.6,113.7 C718.7,113.8 721.9,115.1 725.0,115.5 C728.1,115.9 731.6,117.5 734.3,116.0 C737.0,114.5 739.3,111.0 741.3,106.7 C743.2,102.4 744.8,95.8 746.0,90.3 C747.2,84.8 747.5,78.7 748.3,74.0 C749.1,69.3 750.2,64.2 750.6,62.3" fill="none" stroke="#0000ff" stroke-width="1.0" stroke-linejoin="round" clip-path="url(#c3)"/>
<path d="M612.3,85.5 C612.6,88.1 613.6,96.1 614.3,101.1 C615.0,106.1 615.5,111.1 616.4,115.6 C617.3,120.1 618.3,124.5 619.5,128.0 C620.7,131.4 622.0,134.2 623.7,136.3 C625.4,138.4 627.8,139.6 629.9,140.5 C632.0,141.4 633.7,141.7 636.1,141.5 C638.5,141.3 641.2,140.6 644.4,139.4 C647.5,138.2 651.7,136.1 655.0,134.5 C658.3,132.9 660.8,131.3 664.3,130.0 C667.8,128.7 672.1,127.2 676.0,126.5 C679.9,125.8 683.8,125.9 687.7,125.8 C691.6,125.7 695.8,126.3 699.3,126.0 C702.8,125.7 705.2,125.4 708.7,124.1 C712.2,122.8 716.4,120.8 720.3,118.3 C724.2,115.8 728.5,112.5 732.0,109.0 C735.5,105.5 738.6,101.2 741.3,97.3 C744.0,93.4 746.7,88.6 748.3,85.7 C749.9,82.8 750.5,81.0 751.0,80.0" fill="none" stroke="#ff0000" stroke-width="1.0" stroke-linejoin="round" clip-path="url(#c3)"/>
<rect x="605.4" y="3.7" width="150.60000000000002" height="151.20000000000002" fill="none" stroke="#3a3a3a" stroke-width="1.5"/>
<line x1="594.9" y1="149.3" x2="605.4" y2="149.3" stroke="#555" stroke-width="1.2"/>
<line x1="594.9" y1="126.0" x2="605.4" y2="126.0" stroke="#555" stroke-width="1.2"/>
<line x1="594.9" y1="102.7" x2="605.4" y2="102.7" stroke="#555" stroke-width="1.2"/>
<line x1="594.9" y1="79.4" x2="605.4" y2="79.4" stroke="#555" stroke-width="1.2"/>
<line x1="594.9" y1="56.1" x2="605.4" y2="56.1" stroke="#555" stroke-width="1.2"/>
<line x1="594.9" y1="32.8" x2="605.4" y2="32.8" stroke="#555" stroke-width="1.2"/>
<line x1="594.9" y1="9.5" x2="605.4" y2="9.5" stroke="#555" stroke-width="1.2"/>
<line x1="610.5" y1="154.9" x2="610.5" y2="165.4" stroke="#555" stroke-width="1.2"/>
<line x1="633.9" y1="154.9" x2="633.9" y2="165.4" stroke="#555" stroke-width="1.2"/>
<line x1="657.3" y1="154.9" x2="657.3" y2="165.4" stroke="#555" stroke-width="1.2"/>
<line x1="680.6" y1="154.9" x2="680.6" y2="165.4" stroke="#555" stroke-width="1.2"/>
<line x1="704.0" y1="154.9" x2="704.0" y2="165.4" stroke="#555" stroke-width="1.2"/>
<line x1="727.4" y1="154.9" x2="727.4" y2="165.4" stroke="#555" stroke-width="1.2"/>
<line x1="750.8" y1="154.9" x2="750.8" y2="165.4" stroke="#555" stroke-width="1.2"/>
<text x="623.8" y="21.9" textLength="110" lengthAdjust="spacingAndGlyphs" font-family="Liberation Sans" font-weight="bold" font-size="12.4" fill="#111" stroke="#111" stroke-width="0.25"><tspan font-style="italic">atg12</tspan> - R² = 46.69%</text>
<polygon points="67.6,303.0 70.9,299.5 73.8,292.1 76.8,281.8 81.2,274.4 85.6,266.0 89.7,261.4 95.0,265.0 100.0,272.0 104.8,273.0 110.7,274.4 113.7,275.9 121.0,271.5 127.6,266.9 137.5,257.0 141.5,251.0 145.0,235.5 150.8,225.8 157.6,216.1 161.5,217.1 166.4,223.9 172.2,235.5 178.0,245.2 181.9,251.1 187.7,256.9 193.6,260.0 197.0,260.0 199.4,258.0 202.3,251.1 204.2,233.6 205.2,204.4 205.6,185.0 206.0,160.0 208.0,160.0 207.4,309.6 197.0,311.5 181.0,311.5 161.0,310.0 142.0,313.5 121.0,315.0 106.3,315.8 91.5,316.5 67.6,319.0" fill="rgba(0,0,255,0.27)" clip-path="url(#c4)"/>
<polygon points="67.6,293.0 70.0,296.0 73.8,295.1 84.1,293.6 91.5,289.2 96.0,284.8 100.4,276.0 102.3,270.0 112.3,255.2 117.8,243.3 123.6,223.9 129.4,208.3 132.0,202.0 135.3,198.6 137.0,196.0 139.1,193.7 141.0,191.0 144.0,190.8 146.0,192.0 148.9,194.7 151.0,196.0 154.7,200.5 157.0,203.0 160.5,210.3 163.4,219.0 168.3,225.8 174.1,235.5 180.0,245.2 184.8,249.1 189.7,247.2 195.5,241.4 200.4,231.6 203.3,212.2 205.2,194.7 206.2,185.0 206.5,160.0 208.0,160.0 207.4,310.0 197.0,313.5 181.0,313.0 165.0,309.5 151.0,308.0 142.0,306.2 121.0,307.6 106.3,311.3 98.9,315.0 91.5,318.0 80.0,319.0 67.6,320.0" fill="rgba(255,0,0,0.25)" clip-path="url(#c4)"/>
<polygon points="67.0,263.0 69.8,267.9 64.2,267.9" fill="rgba(0,0,0,0.6)"/>
<polygon points="67.9,284.8 70.7,289.7 65.1,289.7" fill="rgba(0,0,0,0.6)"/>
<polygon points="67.9,287.0 70.7,291.9 65.1,291.9" fill="rgba(0,0,0,0.6)"/>
<polygon points="67.2,295.9 70.0,300.8 64.4,300.8" fill="rgba(0,0,0,0.6)"/>
<polygon points="67.9,298.1 70.7,303.0 65.1,303.0" fill="rgba(0,0,0,0.6)"/>
<polygon points="68.6,300.3 71.4,305.2 65.8,305.2" fill="rgba(0,0,0,0.6)"/>
<polygon points="67.2,302.5 70.0,307.4 64.4,307.4" fill="rgba(0,0,0,0.6)"/>
<polygon points="68.6,304.7 71.4,309.6 65.8,309.6" fill="rgba(0,0,0,0.6)"/>
<polygon points="67.9,307.0 70.7,311.9 65.1,311.9" fill="rgba(0,0,0,0.6)"/>
<polygon points="67.2,309.9 70.0,314.8 64.4,314.8" fill="rgba(0,0,0,0.6)"/>
<polygon points="67.9,312.1 70.7,317.0 65.1,317.0" fill="rgba(0,0,0,0.6)"/>
<polygon points="68.6,314.3 71.4,319.2 65.8,319.2" fill="rgba(0,0,0,0.6)"/>
<rect x="87.8" y="281.8" width="4" height="4" fill="rgba(0,0,255,0.6)"/>
<rect x="88.8" y="286.8" width="4" height="4" fill="rgba(0,0,255,0.6)"/>
<rect x="87.8" y="291.7" width="4" height="4" fill="rgba(0,0,255,0.6)"/>
<rect x="89.4" y="295.7" width="4" height="4" fill="rgba(0,0,255,0.6)"/>
<rect x="87.8" y="300.7" width="4" height="4" fill="rgba(0,0,255,0.6)"/>
<rect x="88.8" y="302.6" width="4" height="4" fill="rgba(0,0,255,0.6)"/>
<rect x="114.6" y="291.7" width="4" height="4" fill="rgba(0,0,255,0.6)"/>
<rect x="113.6" y="297.7" width="4" height="4" fill="rgba(0,0,255,0.6)"/>
<rect x="113.2" y="300.7" width="4" height="4" fill="rgba(0,0,255,0.6)"/>
<rect x="112.7" y="305.6" width="4" height="4" fill="rgba(0,0,255,0.6)"/>
<rect x="114.6" y="308.6" width="4" height="4" fill="rgba(0,0,255,0.6)"/>
<rect x="114.0" y="312.6" width="4" height="4" fill="rgba(0,0,255,0.6)"/>
<rect x="143.4" y="265.9" width="4" height="4" fill="rgba(0,0,255,0.6)"/>
<rect x="140.5" y="283.8" width="4" height="4" fill="rgba(0,0,255,0.6)"/>
<rect x="142.5" y="287.7" width="4" height="4" fill="rgba(0,0,255,0.6)"/>
<rect x="141.5" y="291.7" width="4" height="4" fill="rgba(0,0,255,0.6)"/>
<rect x="162.9" y="289.7" width="4" height="4" fill="rgba(0,0,255,0.6)"/>
<rect x="164.3" y="294.7" width="4" height="4" fill="rgba(0,0,255,0.6)"/>
<rect x="163.3" y="298.7" width="4" height="4" fill="rgba(0,0,255,0.6)"/>
<rect x="162.3" y="304.6" width="4" height="4" fill="rgba(0,0,255,0.6)"/>
<rect x="189.5" y="283.8" width="4" height="4" fill="rgba(0,0,255,0.6)"/>
<rect x="191.1" y="286.8" width="4" height="4" fill="rgba(0,0,255,0.6)"/>
<rect x="189.1" y="291.7" width="4" height="4" fill="rgba(0,0,255,0.6)"/>
<rect x="188.8" y="298.7" width="4" height="4" fill="rgba(0,0,255,0.6)"/>
<rect x="189.5" y="304.6" width="4" height="4" fill="rgba(0,0,255,0.6)"/>
<rect x="204.6" y="264.9" width="4" height="4" fill="rgba(0,0,255,0.6)"/>
<rect x="205.4" y="279.8" width="4" height="4" fill="rgba(0,0,255,0.6)"/>
<rect x="203.5" y="291.7" width="4" height="4" fill="rgba(0,0,255,0.6)"/>
<rect x="205.4" y="295.7" width="4" height="4" fill="rgba(0,0,255,0.6)"/>
<circle cx="91.4" cy="293.7" r="2.4" fill="rgba(255,0,0,0.58)"/>
<circle cx="89.8" cy="296.7" r="2.4" fill="rgba(255,0,0,0.58)"/>
<circle cx="91.4" cy="302.3" r="2.4" fill="rgba(255,0,0,0.58)"/>
<circle cx="89.8" cy="306.6" r="2.4" fill="rgba(255,0,0,0.58)"/>
<circle cx="91.4" cy="307.6" r="2.4" fill="rgba(255,0,0,0.58)"/>
<circle cx="116.6" cy="280.8" r="2.4" fill="rgba(255,0,0,0.58)"/>
<circle cx="115.6" cy="284.8" r="2.4" fill="rgba(255,0,0,0.58)"/>
<circle cx="117.6" cy="289.7" r="2.4" fill="rgba(255,0,0,0.58)"/>
<circle cx="115.2" cy="296.3" r="2.4" fill="rgba(255,0,0,0.58)"/>
<circle cx="115.6" cy="304.6" r="2.4" fill="rgba(255,0,0,0.58)"/>
<circle cx="143.5" cy="258.9" r="2.4" fill="rgba(255,0,0,0.58)"/>
<circle cx="145.4" cy="262.9" r="2.4" fill="rgba(255,0,0,0.58)"/>
<circle cx="143.9" cy="266.9" r="2.4" fill="rgba(255,0,0,0.58)"/>
<circle cx="145.1" cy="270.9" r="2.4" fill="rgba(255,0,0,0.58)"/>
<circle cx="143.5" cy="277.8" r="2.4" fill="rgba(255,0,0,0.58)"/>
<circle cx="142.5" cy="285.8" r="2.4" fill="rgba(255,0,0,0.58)"/>
<circle cx="144.5" cy="289.7" r="2.4" fill="rgba(255,0,0,0.58)"/>
<circle cx="143.9" cy="297.7" r="2.4" fill="rgba(255,0,0,0.58)"/>
<circle cx="165.7" cy="261.9" r="2.4" fill="rgba(255,0,0,0.58)"/>
<circle cx="163.7" cy="271.9" r="2.4" fill="rgba(255,0,0,0.58)"/>
<circle cx="164.9" cy="276.8" r="2.4" fill="rgba(255,0,0,0.58)"/>
<circle cx="166.3" cy="281.8" r="2.4" fill="rgba(255,0,0,0.58)"/>
<circle cx="167.3" cy="297.7" r="2.4" fill="rgba(255,0,0,0.58)"/>
<circle cx="165.3" cy="304.6" r="2.4" fill="rgba(255,0,0,0.58)"/>
<circle cx="191.7" cy="270.9" r="2.4" fill="rgba(255,0,0,0.58)"/>
<circle cx="190.8" cy="281.8" r="2.4" fill="rgba(255,0,0,0.58)"/>
<circle cx="190.2" cy="288.8" r="2.4" fill="rgba(255,0,0,0.58)"/>
<circle cx="191.5" cy="293.7" r="2.4" fill="rgba(255,0,0,0.58)"/>
<circle cx="191.1" cy="301.7" r="2.4" fill="rgba(255,0,0,0.58)"/>
<circle cx="192.1" cy="310.6" r="2.4" fill="rgba(255,0,0,0.58)"/>
<circle cx="210.0" cy="270.9" r="2.4" fill="rgba(255,0,0,0.58)"/>
<circle cx="207.0" cy="285.8" r="2.4" fill="rgba(255,0,0,0.58)"/>
<circle cx="208.0" cy="293.7" r="2.4" fill="rgba(255,0,0,0.58)"/>
<path d="M68.6,318.0 C69.5,317.1 71.9,314.7 73.8,312.8 C75.7,310.9 77.7,308.6 79.7,306.9 C81.7,305.2 83.6,303.4 85.6,302.5 C87.6,301.6 89.3,301.6 91.5,301.7 C93.7,301.8 96.4,302.7 98.9,303.2 C101.4,303.7 103.8,304.3 106.3,304.7 C108.8,305.1 111.2,305.3 113.7,305.4 C116.2,305.5 118.5,305.9 121.0,305.4 C123.5,304.9 125.9,303.7 128.4,302.5 C130.9,301.3 133.5,299.5 135.8,298.0 C138.1,296.5 139.1,295.5 142.0,293.6 C144.9,291.7 150.2,287.9 153.4,286.8 C156.6,285.6 158.0,285.6 161.3,286.8 C164.7,287.9 169.3,291.4 173.3,293.7 C177.2,296.0 181.9,299.5 185.2,300.7 C188.5,301.8 190.5,302.3 193.1,300.7 C195.8,299.0 198.9,295.7 201.1,290.7 C203.2,285.8 205.0,277.0 206.0,270.9 C207.1,264.7 207.2,256.8 207.4,254.0" fill="none" stroke="#0000ff" stroke-width="1.0" stroke-linejoin="round" clip-path="url(#c4)"/>
<path d="M68.6,312.8 C70.0,312.7 74.2,312.5 76.8,312.1 C79.4,311.7 81.6,311.2 84.1,310.6 C86.5,310.0 89.0,309.4 91.5,308.4 C94.0,307.4 96.4,306.0 98.9,304.7 C101.4,303.4 103.8,301.9 106.3,300.3 C108.8,298.7 111.2,297.0 113.7,295.1 C116.2,293.2 118.5,291.1 121.0,289.2 C123.5,287.3 125.9,285.6 128.4,284.0 C130.9,282.4 133.5,280.8 135.8,279.6 C138.1,278.4 139.4,276.9 142.0,276.6 C144.6,276.3 148.2,276.6 151.4,277.8 C154.6,279.0 157.7,281.5 161.3,283.8 C165.0,286.1 169.6,289.6 173.3,291.7 C176.9,293.9 180.2,295.7 183.2,296.7 C186.2,297.7 188.5,298.7 191.1,297.7 C193.8,296.7 196.9,294.2 199.1,290.7 C201.2,287.3 202.7,281.8 204.1,276.8 C205.4,271.9 206.5,263.6 207.0,260.9" fill="none" stroke="#ff0000" stroke-width="1.0" stroke-linejoin="round" clip-path="url(#c4)"/>
<rect x="62.1" y="175.5" width="150.5" height="150.7" fill="none" stroke="#3a3a3a" stroke-width="1.5"/>
<line x1="51.6" y1="320.5" x2="62.1" y2="320.5" stroke="#555" stroke-width="1.2"/>
<line x1="51.6" y1="297.2" x2="62.1" y2="297.2" stroke="#555" stroke-width="1.2"/>
<line x1="51.6" y1="274.0" x2="62.1" y2="274.0" stroke="#555" stroke-width="1.2"/>
<line x1="51.6" y1="250.8" x2="62.1" y2="250.8" stroke="#555" stroke-width="1.2"/>
<line x1="51.6" y1="227.5" x2="62.1" y2="227.5" stroke="#555" stroke-width="1.2"/>
<line x1="51.6" y1="204.2" x2="62.1" y2="204.2" stroke="#555" stroke-width="1.2"/>
<line x1="51.6" y1="181.0" x2="62.1" y2="181.0" stroke="#555" stroke-width="1.2"/>
<line x1="67.6" y1="326.2" x2="67.6" y2="336.7" stroke="#555" stroke-width="1.2"/>
<line x1="90.9" y1="326.2" x2="90.9" y2="336.7" stroke="#555" stroke-width="1.2"/>
<line x1="114.2" y1="326.2" x2="114.2" y2="336.7" stroke="#555" stroke-width="1.2"/>
<line x1="137.5" y1="326.2" x2="137.5" y2="336.7" stroke="#555" stroke-width="1.2"/>
<line x1="160.8" y1="326.2" x2="160.8" y2="336.7" stroke="#555" stroke-width="1.2"/>
<line x1="184.1" y1="326.2" x2="184.1" y2="336.7" stroke="#555" stroke-width="1.2"/>
<line x1="207.4" y1="326.2" x2="207.4" y2="336.7" stroke="#555" stroke-width="1.2"/>
<text x="78.3" y="191.2" textLength="109.6" lengthAdjust="spacingAndGlyphs" font-family="Liberation Sans" font-weight="bold" font-size="12.4" fill="#111" stroke="#111" stroke-width="0.25"><tspan font-style="italic">catha</tspan> - R² = 86.19%</text>
<polygon points="246.3,262.0 248.0,240.0 250.0,205.0 252.0,175.0 252.5,150.0 279.7,150.0 279.7,175.0 283.7,187.0 285.7,194.9 288.7,190.9 292.7,181.0 294.6,175.0 294.6,150.0 386.4,150.0 385.6,305.2 380.1,299.3 370.1,309.2 360.2,315.2 340.3,316.2 320.5,315.2 300.6,315.2 280.7,316.2 260.9,315.2 247.0,319.2 246.2,319.0" fill="rgba(0,0,255,0.27)" clip-path="url(#c5)"/>
<polygon points="246.3,240.0 248.0,215.0 250.5,175.0 251.0,150.0 386.4,150.0 385.6,304.6 380.1,298.7 370.1,308.6 360.2,314.6 340.3,315.6 320.5,314.6 300.6,314.6 280.7,315.6 260.9,314.6 247.0,318.6 246.2,318.6" fill="rgba(255,0,0,0.25)" clip-path="url(#c5)"/>
<polygon points="245.4,189.0 248.2,193.9 242.6,193.9" fill="rgba(0,0,0,0.6)"/>
<polygon points="247.0,214.8 249.8,219.7 244.2,219.7" fill="rgba(0,0,0,0.6)"/>
<polygon points="246.0,273.9 248.8,278.8 243.2,278.8" fill="rgba(0,0,0,0.6)"/>
<polygon points="246.0,287.8 248.8,292.7 243.2,292.7" fill="rgba(0,0,0,0.6)"/>
<polygon points="246.0,290.8 248.8,295.7 243.2,295.7" fill="rgba(0,0,0,0.6)"/>
<polygon points="246.0,292.8 248.8,297.7 243.2,297.7" fill="rgba(0,0,0,0.6)"/>
<polygon points="246.4,294.8 249.2,299.7 243.6,299.7" fill="rgba(0,0,0,0.6)"/>
<polygon points="246.0,295.8 248.8,300.7 243.2,300.7" fill="rgba(0,0,0,0.6)"/>
<polygon points="246.0,301.3 248.8,306.2 243.2,306.2" fill="rgba(0,0,0,0.6)"/>
<polygon points="246.0,303.7 248.8,308.6 243.2,308.6" fill="rgba(0,0,0,0.6)"/>
<polygon points="246.0,307.7 248.8,312.6 243.2,312.6" fill="rgba(0,0,0,0.6)"/>
<polygon points="246.0,311.3 248.8,316.2 243.2,316.2" fill="rgba(0,0,0,0.6)"/>
<polygon points="246.0,312.7 248.8,317.6 243.2,317.6" fill="rgba(0,0,0,0.6)"/>
<rect x="266.4" y="225.1" width="4" height="4" fill="rgba(0,0,255,0.6)"/>
<rect x="267.4" y="236.2" width="4" height="4" fill="rgba(0,0,255,0.6)"/>
<rect x="292.6" y="248.1" width="4" height="4" fill="rgba(0,0,255,0.6)"/>
<rect x="320.5" y="213.7" width="4" height="4" fill="rgba(0,0,255,0.6)"/>
<rect x="320.1" y="246.5" width="4" height="4" fill="rgba(0,0,255,0.6)"/>
<rect x="365.8" y="180.9" width="4" height="4" fill="rgba(0,0,255,0.6)"/>
<rect x="365.8" y="209.2" width="4" height="4" fill="rgba(0,0,255,0.6)"/>
<rect x="383.0" y="212.7" width="4" height="4" fill="rgba(0,0,255,0.6)"/>
<rect x="383.0" y="232.6" width="4" height="4" fill="rgba(0,0,255,0.6)"/>
<rect x="384.0" y="244.5" width="4" height="4" fill="rgba(0,0,255,0.6)"/>
<rect x="383.6" y="247.5" width="4" height="4" fill="rgba(0,0,255,0.6)"/>
<rect x="266.8" y="273.8" width="4" height="4" fill="rgba(0,0,255,0.6)"/>
<rect x="267.8" y="284.8" width="4" height="4" fill="rgba(0,0,255,0.6)"/>
<rect x="267.2" y="295.7" width="4" height="4" fill="rgba(0,0,255,0.6)"/>
<rect x="266.4" y="296.7" width="4" height="4" fill="rgba(0,0,255,0.6)"/>
<rect x="292.2" y="256.0" width="4" height="4" fill="rgba(0,0,255,0.6)"/>
<rect x="293.6" y="282.4" width="4" height="4" fill="rgba(0,0,255,0.6)"/>
<rect x="293.0" y="295.1" width="4" height="4" fill="rgba(0,0,255,0.6)"/>
<rect x="292.6" y="302.6" width="4" height="4" fill="rgba(0,0,255,0.6)"/>
<rect x="291.7" y="308.6" width="4" height="4" fill="rgba(0,0,255,0.6)"/>
<rect x="294.6" y="313.6" width="4" height="4" fill="rgba(0,0,255,0.6)"/>
<rect x="320.9" y="249.4" width="4" height="4" fill="rgba(0,0,255,0.6)"/>
<rect x="320.9" y="255.0" width="4" height="4" fill="rgba(0,0,255,0.6)"/>
<rect x="319.5" y="262.5" width="4" height="4" fill="rgba(0,0,255,0.6)"/>
<rect x="323.4" y="269.9" width="4" height="4" fill="rgba(0,0,255,0.6)"/>
<rect x="320.5" y="283.8" width="4" height="4" fill="rgba(0,0,255,0.6)"/>
<rect x="321.5" y="291.7" width="4" height="4" fill="rgba(0,0,255,0.6)"/>
<rect x="320.9" y="299.7" width="4" height="4" fill="rgba(0,0,255,0.6)"/>
<rect x="342.7" y="261.9" width="4" height="4" fill="rgba(0,0,255,0.6)"/>
<rect x="341.9" y="281.2" width="4" height="4" fill="rgba(0,0,255,0.6)"/>
<rect x="341.3" y="285.8" width="4" height="4" fill="rgba(0,0,255,0.6)"/>
<rect x="342.3" y="296.7" width="4" height="4" fill="rgba(0,0,255,0.6)"/>
<rect x="342.3" y="306.6" width="4" height="4" fill="rgba(0,0,255,0.6)"/>
<rect x="341.9" y="309.6" width="4" height="4" fill="rgba(0,0,255,0.6)"/>
<rect x="367.2" y="256.0" width="4" height="4" fill="rgba(0,0,255,0.6)"/>
<rect x="367.8" y="262.9" width="4" height="4" fill="rgba(0,0,255,0.6)"/>
<rect x="368.5" y="287.7" width="4" height="4" fill="rgba(0,0,255,0.6)"/>
<rect x="368.1" y="291.7" width="4" height="4" fill="rgba(0,0,255,0.6)"/>
<rect x="367.2" y="297.1" width="4" height="4" fill="rgba(0,0,255,0.6)"/>
<rect x="365.2" y="309.6" width="4" height="4" fill="rgba(0,0,255,0.6)"/>
<rect x="383.0" y="263.9" width="4" height="4" fill="rgba(0,0,255,0.6)"/>
<rect x="385.0" y="264.9" width="4" height="4" fill="rgba(0,0,255,0.6)"/>
<rect x="385.0" y="272.8" width="4" height="4" fill="rgba(0,0,255,0.6)"/>
<rect x="385.0" y="295.7" width="4" height="4" fill="rgba(0,0,255,0.6)"/>
<circle cx="270.8" cy="233.6" r="2.4" fill="rgba(255,0,0,0.58)"/>
<circle cx="324.1" cy="218.7" r="2.4" fill="rgba(255,0,0,0.58)"/>
<circle cx="322.1" cy="241.2" r="2.4" fill="rgba(255,0,0,0.58)"/>
<circle cx="344.3" cy="224.3" r="2.4" fill="rgba(255,0,0,0.58)"/>
<circle cx="369.2" cy="228.6" r="2.4" fill="rgba(255,0,0,0.58)"/>
<circle cx="370.1" cy="227.1" r="2.4" fill="rgba(255,0,0,0.58)"/>
<circle cx="387.0" cy="215.7" r="2.4" fill="rgba(255,0,0,0.58)"/>
<circle cx="385.6" cy="224.7" r="2.4" fill="rgba(255,0,0,0.58)"/>
<circle cx="385.6" cy="229.6" r="2.4" fill="rgba(255,0,0,0.58)"/>
<circle cx="269.2" cy="253.4" r="2.4" fill="rgba(255,0,0,0.58)"/>
<circle cx="269.2" cy="257.4" r="2.4" fill="rgba(255,0,0,0.58)"/>
<circle cx="268.8" cy="273.8" r="2.4" fill="rgba(255,0,0,0.58)"/>
<circle cx="270.4" cy="276.8" r="2.4" fill="rgba(255,0,0,0.58)"/>
<circle cx="269.8" cy="292.7" r="2.4" fill="rgba(255,0,0,0.58)"/>
<circle cx="268.8" cy="295.7" r="2.4" fill="rgba(255,0,0,0.58)"/>
<circle cx="268.8" cy="296.7" r="2.4" fill="rgba(255,0,0,0.58)"/>
<circle cx="294.2" cy="253.4" r="2.4" fill="rgba(255,0,0,0.58)"/>
<circle cx="295.0" cy="268.5" r="2.4" fill="rgba(255,0,0,0.58)"/>
<circle cx="295.0" cy="281.8" r="2.4" fill="rgba(255,0,0,0.58)"/>
<circle cx="293.7" cy="289.7" r="2.4" fill="rgba(255,0,0,0.58)"/>
<circle cx="294.2" cy="302.3" r="2.4" fill="rgba(255,0,0,0.58)"/>
<circle cx="295.6" cy="306.2" r="2.4" fill="rgba(255,0,0,0.58)"/>
<circle cx="294.6" cy="311.6" r="2.4" fill="rgba(255,0,0,0.58)"/>
<circle cx="322.5" cy="267.3" r="2.4" fill="rgba(255,0,0,0.58)"/>
<circle cx="323.5" cy="272.9" r="2.4" fill="rgba(255,0,0,0.58)"/>
<circle cx="320.5" cy="283.8" r="2.4" fill="rgba(255,0,0,0.58)"/>
<circle cx="321.5" cy="287.8" r="2.4" fill="rgba(255,0,0,0.58)"/>
<circle cx="322.5" cy="291.7" r="2.4" fill="rgba(255,0,0,0.58)"/>
<circle cx="320.5" cy="296.7" r="2.4" fill="rgba(255,0,0,0.58)"/>
<circle cx="322.9" cy="297.7" r="2.4" fill="rgba(255,0,0,0.58)"/>
<circle cx="346.7" cy="282.4" r="2.4" fill="rgba(255,0,0,0.58)"/>
<circle cx="342.7" cy="285.8" r="2.4" fill="rgba(255,0,0,0.58)"/>
<circle cx="343.9" cy="296.7" r="2.4" fill="rgba(255,0,0,0.58)"/>
<circle cx="343.3" cy="301.7" r="2.4" fill="rgba(255,0,0,0.58)"/>
<circle cx="343.9" cy="306.6" r="2.4" fill="rgba(255,0,0,0.58)"/>
<circle cx="342.7" cy="310.6" r="2.4" fill="rgba(255,0,0,0.58)"/>
<circle cx="368.2" cy="253.4" r="2.4" fill="rgba(255,0,0,0.58)"/>
<circle cx="370.5" cy="258.9" r="2.4" fill="rgba(255,0,0,0.58)"/>
<circle cx="369.2" cy="263.3" r="2.4" fill="rgba(255,0,0,0.58)"/>
<circle cx="369.8" cy="278.8" r="2.4" fill="rgba(255,0,0,0.58)"/>
<circle cx="369.2" cy="291.7" r="2.4" fill="rgba(255,0,0,0.58)"/>
<path d="M247.0,314.6 C248.0,311.3 250.6,300.4 252.9,294.7 C255.2,289.0 258.6,282.1 260.9,280.4 C263.2,278.8 264.5,282.6 266.8,284.8 C269.1,287.0 271.5,291.4 274.8,293.7 C278.1,296.0 283.4,298.0 286.7,298.7 C290.0,299.3 291.7,299.0 294.6,297.7 C297.6,296.4 301.3,293.2 304.6,290.7 C307.9,288.3 311.2,283.6 314.5,282.8 C317.8,282.0 321.1,284.3 324.4,285.8 C327.8,287.3 331.1,289.9 334.4,291.7 C337.7,293.6 341.0,296.4 344.3,296.7 C347.6,297.0 351.3,296.0 354.3,293.7 C357.2,291.4 360.0,287.9 362.2,282.8 C364.4,277.7 365.7,270.3 367.2,262.9 C368.7,255.6 370.0,245.0 371.1,238.6 C372.3,232.2 373.0,231.3 374.1,224.7 C375.3,218.0 377.1,204.0 378.1,198.8 C379.1,193.7 379.4,194.2 380.1,193.9 C380.8,193.5 381.6,193.4 382.5,196.9 C383.3,200.3 384.5,210.1 385.0,214.7 C385.6,219.4 385.5,223.0 385.6,224.7" fill="none" stroke="#0000ff" stroke-width="1.0" stroke-linejoin="round" clip-path="url(#c5)"/>
<path d="M247.0,312.6 C247.6,309.6 249.3,301.0 250.9,294.7 C252.6,288.4 255.2,278.9 256.9,274.8 C258.6,270.8 259.2,270.3 260.9,270.3 C262.5,270.3 264.8,272.4 266.8,274.8 C268.8,277.3 270.5,281.8 272.8,284.8 C275.1,287.8 277.8,291.4 280.7,292.7 C283.7,294.0 287.4,293.7 290.7,292.7 C294.0,291.7 297.6,289.1 300.6,286.8 C303.6,284.4 305.7,281.0 308.6,278.8 C311.4,276.7 315.2,274.3 317.5,273.8 C319.8,273.4 320.3,274.7 322.5,275.8 C324.6,277.0 327.4,278.7 330.4,280.8 C333.4,283.0 337.4,286.9 340.3,288.8 C343.3,290.6 345.6,292.2 348.3,291.7 C350.9,291.2 353.9,288.9 356.2,285.8 C358.6,282.6 360.5,277.3 362.2,272.9 C363.9,268.4 364.8,267.0 366.2,258.9 C367.5,250.9 368.8,235.4 370.1,224.7 C371.5,214.0 373.0,203.1 374.1,194.9 C375.3,186.6 376.1,180.3 377.1,175.0 C378.1,169.7 379.1,163.1 380.1,163.1 C381.1,163.1 382.2,169.7 383.1,175.0 C383.9,180.3 384.7,191.6 385.0,194.9" fill="none" stroke="#ff0000" stroke-width="1.0" stroke-linejoin="round" clip-path="url(#c5)"/>
<rect x="241.1" y="175.2" width="150.29999999999998" height="151.0" fill="none" stroke="#3a3a3a" stroke-width="1.5"/>
<line x1="230.6" y1="320.4" x2="241.1" y2="320.4" stroke="#555" stroke-width="1.2"/>
<line x1="230.6" y1="297.2" x2="241.1" y2="297.2" stroke="#555" stroke-width="1.2"/>
<line x1="230.6" y1="273.9" x2="241.1" y2="273.9" stroke="#555" stroke-width="1.2"/>
<line x1="230.6" y1="250.7" x2="241.1" y2="250.7" stroke="#555" stroke-width="1.2"/>
<line x1="230.6" y1="227.5" x2="241.1" y2="227.5" stroke="#555" stroke-width="1.2"/>
<line x1="230.6" y1="204.2" x2="241.1" y2="204.2" stroke="#555" stroke-width="1.2"/>
<line x1="230.6" y1="181.0" x2="241.1" y2="181.0" stroke="#555" stroke-width="1.2"/>
<line x1="246.3" y1="326.2" x2="246.3" y2="336.7" stroke="#555" stroke-width="1.2"/>
<line x1="269.6" y1="326.2" x2="269.6" y2="336.7" stroke="#555" stroke-width="1.2"/>
<line x1="293.0" y1="326.2" x2="293.0" y2="336.7" stroke="#555" stroke-width="1.2"/>
<line x1="316.4" y1="326.2" x2="316.4" y2="336.7" stroke="#555" stroke-width="1.2"/>
<line x1="339.7" y1="326.2" x2="339.7" y2="336.7" stroke="#555" stroke-width="1.2"/>
<line x1="363.0" y1="326.2" x2="363.0" y2="336.7" stroke="#555" stroke-width="1.2"/>
<line x1="386.4" y1="326.2" x2="386.4" y2="336.7" stroke="#555" stroke-width="1.2"/>
<text x="261.4" y="192.9" textLength="109.6" lengthAdjust="spacingAndGlyphs" font-family="Liberation Sans" font-weight="bold" font-size="12.4" fill="#111" stroke="#111" stroke-width="0.25"><tspan font-style="italic">cathd</tspan> - R² = 30.61%</text>
<polygon points="428.0,251.1 430.9,224.7 433.9,194.9 434.9,175.0 434.9,163.1 452.8,163.1 452.8,175.0 455.8,194.9 458.8,212.8 462.7,220.7 470.7,219.7 476.6,213.7 482.6,194.9 486.6,182.9 488.6,175.0 488.6,163.1 509.4,163.1 509.4,175.0 514.4,186.9 518.4,204.8 522.3,220.7 526.3,227.7 532.3,222.7 538.2,210.8 542.2,186.9 544.2,175.0 544.2,163.1 567.6,163.1 567.6,310.6 558.1,309.6 542.2,313.6 522.3,315.6 502.5,315.6 482.6,314.6 462.7,315.6 442.9,314.6 434.9,316.6 428.0,319.5" fill="#d9d9d9" clip-path="url(#c6)"/>
<polygon points="429.0,249.1 431.8,254.0 426.2,254.0" fill="rgba(0,0,0,0.6)"/>
<polygon points="429.0,277.9 431.8,282.8 426.2,282.8" fill="rgba(0,0,0,0.6)"/>
<polygon points="429.0,283.9 431.8,288.8 426.2,288.8" fill="rgba(0,0,0,0.6)"/>
<polygon points="429.0,288.8 431.8,293.7 426.2,293.7" fill="rgba(0,0,0,0.6)"/>
<polygon points="429.0,290.8 431.8,295.7 426.2,295.7" fill="rgba(0,0,0,0.6)"/>
<polygon points="429.0,292.8 431.8,297.7 426.2,297.7" fill="rgba(0,0,0,0.6)"/>
<polygon points="429.0,300.8 431.8,305.7 426.2,305.7" fill="rgba(0,0,0,0.6)"/>
<polygon points="429.0,302.7 431.8,307.6 426.2,307.6" fill="rgba(0,0,0,0.6)"/>
<polygon points="429.0,306.7 431.8,311.6 426.2,311.6" fill="rgba(0,0,0,0.6)"/>
<polygon points="429.0,310.7 431.8,315.6 426.2,315.6" fill="rgba(0,0,0,0.6)"/>
<polygon points="429.0,312.7 431.8,317.6 426.2,317.6" fill="rgba(0,0,0,0.6)"/>
<polygon points="429.0,316.6 431.8,321.5 426.2,321.5" fill="rgba(0,0,0,0.6)"/>
<rect x="450.2" y="228.2" width="4" height="4" fill="rgba(0,0,255,0.6)"/>
<rect x="449.8" y="248.5" width="4" height="4" fill="rgba(0,0,255,0.6)"/>
<rect x="503.5" y="247.5" width="4" height="4" fill="rgba(0,0,255,0.6)"/>
<rect x="567.0" y="223.1" width="4" height="4" fill="rgba(0,0,255,0.6)"/>
<rect x="551.1" y="244.1" width="4" height="4" fill="rgba(0,0,255,0.6)"/>
<rect x="549.8" y="248.1" width="4" height="4" fill="rgba(0,0,255,0.6)"/>
<rect x="567.0" y="244.9" width="4" height="4" fill="rgba(0,0,255,0.6)"/>
<rect x="449.8" y="272.8" width="4" height="4" fill="rgba(0,0,255,0.6)"/>
<rect x="448.8" y="278.8" width="4" height="4" fill="rgba(0,0,255,0.6)"/>
<rect x="450.4" y="292.7" width="4" height="4" fill="rgba(0,0,255,0.6)"/>
<rect x="450.8" y="301.7" width="4" height="4" fill="rgba(0,0,255,0.6)"/>
<rect x="447.8" y="303.6" width="4" height="4" fill="rgba(0,0,255,0.6)"/>
<rect x="450.8" y="308.6" width="4" height="4" fill="rgba(0,0,255,0.6)"/>
<rect x="449.8" y="310.6" width="4" height="4" fill="rgba(0,0,255,0.6)"/>
<rect x="475.0" y="266.5" width="4" height="4" fill="rgba(0,0,255,0.6)"/>
<rect x="475.0" y="286.4" width="4" height="4" fill="rgba(0,0,255,0.6)"/>
<rect x="474.2" y="296.7" width="4" height="4" fill="rgba(0,0,255,0.6)"/>
<rect x="475.6" y="302.2" width="4" height="4" fill="rgba(0,0,255,0.6)"/>
<rect x="476.6" y="308.6" width="4" height="4" fill="rgba(0,0,255,0.6)"/>
<rect x="474.2" y="304.2" width="4" height="4" fill="rgba(0,0,255,0.6)"/>
<rect x="502.1" y="255.0" width="4" height="4" fill="rgba(0,0,255,0.6)"/>
<rect x="502.9" y="262.9" width="4" height="4" fill="rgba(0,0,255,0.6)"/>
<rect x="502.5" y="264.9" width="4" height="4" fill="rgba(0,0,255,0.6)"/>
<rect x="502.9" y="284.4" width="4" height="4" fill="rgba(0,0,255,0.6)"/>
<rect x="502.5" y="286.8" width="4" height="4" fill="rgba(0,0,255,0.6)"/>
<rect x="503.5" y="297.7" width="4" height="4" fill="rgba(0,0,255,0.6)"/>
<rect x="502.5" y="301.7" width="4" height="4" fill="rgba(0,0,255,0.6)"/>
<rect x="502.5" y="307.6" width="4" height="4" fill="rgba(0,0,255,0.6)"/>
<rect x="524.3" y="272.8" width="4" height="4" fill="rgba(0,0,255,0.6)"/>
<rect x="523.9" y="286.4" width="4" height="4" fill="rgba(0,0,255,0.6)"/>
<rect x="523.3" y="289.7" width="4" height="4" fill="rgba(0,0,255,0.6)"/>
<rect x="523.9" y="299.1" width="4" height="4" fill="rgba(0,0,255,0.6)"/>
<rect x="522.7" y="306.6" width="4" height="4" fill="rgba(0,0,255,0.6)"/>
<rect x="523.9" y="312.6" width="4" height="4" fill="rgba(0,0,255,0.6)"/>
<rect x="549.2" y="262.9" width="4" height="4" fill="rgba(0,0,255,0.6)"/>
<rect x="550.1" y="270.9" width="4" height="4" fill="rgba(0,0,255,0.6)"/>
<rect x="550.5" y="283.8" width="4" height="4" fill="rgba(0,0,255,0.6)"/>
<rect x="549.8" y="288.3" width="4" height="4" fill="rgba(0,0,255,0.6)"/>
<rect x="549.8" y="297.7" width="4" height="4" fill="rgba(0,0,255,0.6)"/>
<rect x="550.5" y="300.3" width="4" height="4" fill="rgba(0,0,255,0.6)"/>
<rect x="549.2" y="303.6" width="4" height="4" fill="rgba(0,0,255,0.6)"/>
<rect x="566.0" y="274.8" width="4" height="4" fill="rgba(0,0,255,0.6)"/>
<rect x="565.6" y="282.8" width="4" height="4" fill="rgba(0,0,255,0.6)"/>
<rect x="564.5" y="286.4" width="4" height="4" fill="rgba(0,0,255,0.6)"/>
<rect x="567.6" y="288.7" width="4" height="4" fill="rgba(0,0,255,0.6)"/>
<rect x="567.6" y="293.7" width="4" height="4" fill="rgba(0,0,255,0.6)"/>
<rect x="567.0" y="296.7" width="4" height="4" fill="rgba(0,0,255,0.6)"/>
<rect x="568.0" y="297.7" width="4" height="4" fill="rgba(0,0,255,0.6)"/>
<circle cx="450.8" cy="224.7" r="2.4" fill="rgba(255,0,0,0.58)"/>
<circle cx="505.5" cy="242.2" r="2.4" fill="rgba(255,0,0,0.58)"/>
<circle cx="551.8" cy="228.2" r="2.4" fill="rgba(255,0,0,0.58)"/>
<circle cx="554.1" cy="235.6" r="2.4" fill="rgba(255,0,0,0.58)"/>
<circle cx="567.0" cy="229.0" r="2.4" fill="rgba(255,0,0,0.58)"/>
<circle cx="451.4" cy="278.4" r="2.4" fill="rgba(255,0,0,0.58)"/>
<circle cx="451.2" cy="287.8" r="2.4" fill="rgba(255,0,0,0.58)"/>
<circle cx="453.2" cy="292.3" r="2.4" fill="rgba(255,0,0,0.58)"/>
<circle cx="450.8" cy="300.3" r="2.4" fill="rgba(255,0,0,0.58)"/>
<circle cx="451.8" cy="304.6" r="2.4" fill="rgba(255,0,0,0.58)"/>
<circle cx="477.0" cy="274.4" r="2.4" fill="rgba(255,0,0,0.58)"/>
<circle cx="477.0" cy="285.8" r="2.4" fill="rgba(255,0,0,0.58)"/>
<circle cx="477.6" cy="294.7" r="2.4" fill="rgba(255,0,0,0.58)"/>
<circle cx="478.2" cy="299.1" r="2.4" fill="rgba(255,0,0,0.58)"/>
<circle cx="477.6" cy="308.6" r="2.4" fill="rgba(255,0,0,0.58)"/>
<circle cx="477.6" cy="309.0" r="2.4" fill="rgba(255,0,0,0.58)"/>
<circle cx="504.5" cy="269.9" r="2.4" fill="rgba(255,0,0,0.58)"/>
<circle cx="505.5" cy="279.8" r="2.4" fill="rgba(255,0,0,0.58)"/>
<circle cx="504.9" cy="289.7" r="2.4" fill="rgba(255,0,0,0.58)"/>
<circle cx="504.5" cy="296.7" r="2.4" fill="rgba(255,0,0,0.58)"/>
<circle cx="506.4" cy="298.7" r="2.4" fill="rgba(255,0,0,0.58)"/>
<circle cx="504.9" cy="301.7" r="2.4" fill="rgba(255,0,0,0.58)"/>
<circle cx="505.5" cy="305.0" r="2.4" fill="rgba(255,0,0,0.58)"/>
<circle cx="526.3" cy="255.4" r="2.4" fill="rgba(255,0,0,0.58)"/>
<circle cx="526.3" cy="270.5" r="2.4" fill="rgba(255,0,0,0.58)"/>
<circle cx="527.3" cy="294.7" r="2.4" fill="rgba(255,0,0,0.58)"/>
<circle cx="525.3" cy="304.6" r="2.4" fill="rgba(255,0,0,0.58)"/>
<circle cx="527.3" cy="306.6" r="2.4" fill="rgba(255,0,0,0.58)"/>
<circle cx="526.3" cy="310.6" r="2.4" fill="rgba(255,0,0,0.58)"/>
<circle cx="527.3" cy="315.0" r="2.4" fill="rgba(255,0,0,0.58)"/>
<circle cx="551.8" cy="254.6" r="2.4" fill="rgba(255,0,0,0.58)"/>
<circle cx="551.2" cy="278.8" r="2.4" fill="rgba(255,0,0,0.58)"/>
<circle cx="553.1" cy="286.8" r="2.4" fill="rgba(255,0,0,0.58)"/>
<circle cx="553.1" cy="291.7" r="2.4" fill="rgba(255,0,0,0.58)"/>
<circle cx="552.5" cy="297.1" r="2.4" fill="rgba(255,0,0,0.58)"/>
<circle cx="553.1" cy="298.7" r="2.4" fill="rgba(255,0,0,0.58)"/>
<circle cx="552.1" cy="310.2" r="2.4" fill="rgba(255,0,0,0.58)"/>
<circle cx="569.0" cy="258.9" r="2.4" fill="rgba(255,0,0,0.58)"/>
<circle cx="568.4" cy="269.9" r="2.4" fill="rgba(255,0,0,0.58)"/>
<circle cx="569.0" cy="292.7" r="2.4" fill="rgba(255,0,0,0.58)"/>
<path d="M429.0,310.6 C429.6,308.3 431.6,300.7 432.9,296.7 C434.3,292.7 435.3,289.1 436.9,286.8 C438.6,284.4 440.9,282.6 442.9,282.8 C444.9,283.0 446.5,285.3 448.8,287.8 C451.1,290.2 453.8,295.1 456.8,297.7 C459.8,300.2 463.4,302.6 466.7,303.1 C470.0,303.6 474.0,301.4 476.6,300.7 C479.3,299.9 480.0,300.0 482.6,298.7 C485.3,297.4 489.7,294.2 492.5,292.7 C495.4,291.2 497.2,289.7 499.5,289.7 C501.8,289.7 503.6,291.2 506.4,292.7 C509.3,294.2 513.1,297.0 516.4,298.7 C519.7,300.4 523.3,302.6 526.3,303.1 C529.3,303.6 531.6,303.7 534.3,301.7 C536.9,299.6 539.7,295.2 542.2,290.7 C544.7,286.3 547.2,280.1 549.2,274.8 C551.2,269.5 552.8,263.6 554.1,258.9 C555.5,254.3 556.1,249.4 557.1,247.0 C558.1,244.6 559.3,245.1 560.1,244.5 C560.9,244.0 561.4,242.5 562.1,243.5 C562.8,244.6 563.8,247.9 564.5,251.1 C565.1,254.3 565.5,258.0 566.1,262.9 C566.7,267.9 567.7,277.8 568.0,280.8" fill="none" stroke="#111" stroke-width="1.0" stroke-linejoin="round" clip-path="url(#c6)"/>
<rect x="423.3" y="175.5" width="150.99999999999994" height="150.7" fill="none" stroke="#3a3a3a" stroke-width="1.5"/>
<line x1="412.8" y1="320.4" x2="423.3" y2="320.4" stroke="#555" stroke-width="1.2"/>
<line x1="412.8" y1="297.2" x2="423.3" y2="297.2" stroke="#555" stroke-width="1.2"/>
<line x1="412.8" y1="273.9" x2="423.3" y2="273.9" stroke="#555" stroke-width="1.2"/>
<line x1="412.8" y1="250.7" x2="423.3" y2="250.7" stroke="#555" stroke-width="1.2"/>
<line x1="412.8" y1="227.5" x2="423.3" y2="227.5" stroke="#555" stroke-width="1.2"/>
<line x1="412.8" y1="204.2" x2="423.3" y2="204.2" stroke="#555" stroke-width="1.2"/>
<line x1="412.8" y1="181.0" x2="423.3" y2="181.0" stroke="#555" stroke-width="1.2"/>
<line x1="429.0" y1="326.2" x2="429.0" y2="336.7" stroke="#555" stroke-width="1.2"/>
<line x1="452.2" y1="326.2" x2="452.2" y2="336.7" stroke="#555" stroke-width="1.2"/>
<line x1="475.5" y1="326.2" x2="475.5" y2="336.7" stroke="#555" stroke-width="1.2"/>
<line x1="498.8" y1="326.2" x2="498.8" y2="336.7" stroke="#555" stroke-width="1.2"/>
<line x1="522.0" y1="326.2" x2="522.0" y2="336.7" stroke="#555" stroke-width="1.2"/>
<line x1="545.2" y1="326.2" x2="545.2" y2="336.7" stroke="#555" stroke-width="1.2"/>
<line x1="568.5" y1="326.2" x2="568.5" y2="336.7" stroke="#555" stroke-width="1.2"/>
<text x="445.7" y="193.4" textLength="106.8" lengthAdjust="spacingAndGlyphs" font-family="Liberation Sans" font-weight="bold" font-size="12.4" fill="#111" stroke="#111" stroke-width="0.25"><tspan font-style="italic">cathf</tspan> - R² = 46.97%</text>
<polygon points="610.5,150.0 618.0,150.0 618.0,175.0 619.6,188.0 621.2,200.9 624.4,213.9 629.3,230.1 635.8,243.0 642.2,252.7 650.3,264.1 658.4,275.4 669.8,285.1 685.0,292.5 694.4,297.0 704.3,299.1 714.3,298.7 724.2,296.7 734.1,293.7 744.1,289.7 750.8,285.5 749.6,316.6 744.1,317.6 724.2,318.6 704.3,318.6 684.5,318.6 674.5,318.6 661.3,316.6 645.0,316.0 632.0,314.4 618.5,311.0 610.5,305.5" fill="#d9d9d9" clip-path="url(#c7)"/>
<polygon points="608.6,176.5 611.4,181.4 605.8,181.4" fill="rgba(0,0,0,0.6)"/>
<polygon points="608.6,225.7 611.4,230.6 605.8,230.6" fill="rgba(0,0,0,0.6)"/>
<polygon points="610.0,247.2 612.8,252.1 607.2,252.1" fill="rgba(0,0,0,0.6)"/>
<polygon points="608.6,260.0 611.4,264.9 605.8,264.9" fill="rgba(0,0,0,0.6)"/>
<polygon points="610.6,270.9 613.4,275.8 607.8,275.8" fill="rgba(0,0,0,0.6)"/>
<polygon points="612.0,283.5 614.8,288.4 609.2,288.4" fill="rgba(0,0,0,0.6)"/>
<polygon points="610.6,291.8 613.4,296.7 607.8,296.7" fill="rgba(0,0,0,0.6)"/>
<polygon points="610.6,295.8 613.4,300.7 607.8,300.7" fill="rgba(0,0,0,0.6)"/>
<polygon points="610.0,298.8 612.8,303.7 607.2,303.7" fill="rgba(0,0,0,0.6)"/>
<polygon points="611.0,301.7 613.8,306.6 608.2,306.6" fill="rgba(0,0,0,0.6)"/>
<polygon points="610.0,304.7 612.8,309.6 607.2,309.6" fill="rgba(0,0,0,0.6)"/>
<polygon points="610.0,306.7 612.8,311.6 607.2,311.6" fill="rgba(0,0,0,0.6)"/>
<polygon points="610.6,308.7 613.4,313.6 607.8,313.6" fill="rgba(0,0,0,0.6)"/>
<polygon points="610.6,311.7 613.4,316.6 607.8,316.6" fill="rgba(0,0,0,0.6)"/>
<rect x="630.8" y="280.8" width="4" height="4" fill="rgba(0,0,255,0.6)"/>
<rect x="630.8" y="286.8" width="4" height="4" fill="rgba(0,0,255,0.6)"/>
<rect x="633.2" y="290.3" width="4" height="4" fill="rgba(0,0,255,0.6)"/>
<rect x="629.8" y="299.7" width="4" height="4" fill="rgba(0,0,255,0.6)"/>
<rect x="632.4" y="302.6" width="4" height="4" fill="rgba(0,0,255,0.6)"/>
<rect x="630.8" y="306.6" width="4" height="4" fill="rgba(0,0,255,0.6)"/>
<rect x="632.4" y="308.6" width="4" height="4" fill="rgba(0,0,255,0.6)"/>
<rect x="630.4" y="310.6" width="4" height="4" fill="rgba(0,0,255,0.6)"/>
<rect x="657.0" y="297.7" width="4" height="4" fill="rgba(0,0,255,0.6)"/>
<rect x="658.2" y="298.3" width="4" height="4" fill="rgba(0,0,255,0.6)"/>
<rect x="658.2" y="307.6" width="4" height="4" fill="rgba(0,0,255,0.6)"/>
<rect x="656.6" y="312.6" width="4" height="4" fill="rgba(0,0,255,0.6)"/>
<rect x="657.0" y="315.6" width="4" height="4" fill="rgba(0,0,255,0.6)"/>
<rect x="686.1" y="289.7" width="4" height="4" fill="rgba(0,0,255,0.6)"/>
<rect x="684.1" y="299.7" width="4" height="4" fill="rgba(0,0,255,0.6)"/>
<rect x="684.9" y="305.6" width="4" height="4" fill="rgba(0,0,255,0.6)"/>
<rect x="683.5" y="310.6" width="4" height="4" fill="rgba(0,0,255,0.6)"/>
<rect x="684.9" y="313.6" width="4" height="4" fill="rgba(0,0,255,0.6)"/>
<rect x="705.9" y="308.2" width="4" height="4" fill="rgba(0,0,255,0.6)"/>
<rect x="706.3" y="312.6" width="4" height="4" fill="rgba(0,0,255,0.6)"/>
<rect x="705.9" y="315.6" width="4" height="4" fill="rgba(0,0,255,0.6)"/>
<rect x="731.2" y="304.2" width="4" height="4" fill="rgba(0,0,255,0.6)"/>
<rect x="730.2" y="310.6" width="4" height="4" fill="rgba(0,0,255,0.6)"/>
<rect x="731.8" y="312.6" width="4" height="4" fill="rgba(0,0,255,0.6)"/>
<rect x="732.5" y="315.6" width="4" height="4" fill="rgba(0,0,255,0.6)"/>
<rect x="748.0" y="295.1" width="4" height="4" fill="rgba(0,0,255,0.6)"/>
<rect x="749.0" y="300.3" width="4" height="4" fill="rgba(0,0,255,0.6)"/>
<rect x="746.1" y="307.6" width="4" height="4" fill="rgba(0,0,255,0.6)"/>
<rect x="749.0" y="310.6" width="4" height="4" fill="rgba(0,0,255,0.6)"/>
<rect x="748.0" y="313.6" width="4" height="4" fill="rgba(0,0,255,0.6)"/>
<circle cx="630.4" cy="292.3" r="2.4" fill="rgba(255,0,0,0.58)"/>
<circle cx="632.8" cy="303.7" r="2.4" fill="rgba(255,0,0,0.58)"/>
<circle cx="633.8" cy="307.6" r="2.4" fill="rgba(255,0,0,0.58)"/>
<circle cx="631.8" cy="310.6" r="2.4" fill="rgba(255,0,0,0.58)"/>
<circle cx="659.0" cy="273.3" r="2.4" fill="rgba(255,0,0,0.58)"/>
<circle cx="658.6" cy="288.4" r="2.4" fill="rgba(255,0,0,0.58)"/>
<circle cx="657.1" cy="308.6" r="2.4" fill="rgba(255,0,0,0.58)"/>
<circle cx="658.2" cy="312.6" r="2.4" fill="rgba(255,0,0,0.58)"/>
<circle cx="659.6" cy="315.6" r="2.4" fill="rgba(255,0,0,0.58)"/>
<circle cx="686.5" cy="291.1" r="2.4" fill="rgba(255,0,0,0.58)"/>
<circle cx="686.5" cy="310.6" r="2.4" fill="rgba(255,0,0,0.58)"/>
<circle cx="687.5" cy="314.6" r="2.4" fill="rgba(255,0,0,0.58)"/>
<circle cx="686.1" cy="316.6" r="2.4" fill="rgba(255,0,0,0.58)"/>
<circle cx="705.7" cy="276.8" r="2.4" fill="rgba(255,0,0,0.58)"/>
<circle cx="709.3" cy="304.2" r="2.4" fill="rgba(255,0,0,0.58)"/>
<circle cx="707.3" cy="313.6" r="2.4" fill="rgba(255,0,0,0.58)"/>
<circle cx="706.3" cy="315.6" r="2.4" fill="rgba(255,0,0,0.58)"/>
<circle cx="733.2" cy="310.2" r="2.4" fill="rgba(255,0,0,0.58)"/>
<circle cx="734.5" cy="311.6" r="2.4" fill="rgba(255,0,0,0.58)"/>
<circle cx="732.2" cy="315.6" r="2.4" fill="rgba(255,0,0,0.58)"/>
<circle cx="749.0" cy="304.6" r="2.4" fill="rgba(255,0,0,0.58)"/>
<circle cx="750.0" cy="311.6" r="2.4" fill="rgba(255,0,0,0.58)"/>
<circle cx="749.0" cy="313.6" r="2.4" fill="rgba(255,0,0,0.58)"/>
<path d="M612.9,270.4 C613.8,272.1 616.4,277.2 618.5,280.6 C620.6,284.0 622.7,287.7 625.3,290.7 C627.9,293.7 630.9,296.2 634.3,298.6 C637.7,301.1 641.9,303.7 645.6,305.4 C649.4,307.1 654.3,307.8 656.8,308.7 C659.3,309.6 657.7,310.2 660.6,311.0 C663.6,311.8 669.9,312.9 674.5,313.6 C679.2,314.2 683.5,314.6 688.4,315.0 C693.4,315.3 699.0,315.5 704.3,315.6 C709.6,315.6 715.3,315.3 720.2,315.2 C725.2,315.0 730.2,314.8 734.1,314.6 C738.1,314.3 741.5,313.9 744.1,313.6 C746.7,313.3 748.7,313.1 749.6,313.0" fill="none" stroke="#111" stroke-width="1.0" stroke-linejoin="round" clip-path="url(#c7)"/>
<rect x="605.3" y="175.5" width="151.0" height="150.7" fill="none" stroke="#3a3a3a" stroke-width="1.5"/>
<line x1="594.8" y1="320.5" x2="605.3" y2="320.5" stroke="#555" stroke-width="1.2"/>
<line x1="594.8" y1="297.2" x2="605.3" y2="297.2" stroke="#555" stroke-width="1.2"/>
<line x1="594.8" y1="274.0" x2="605.3" y2="274.0" stroke="#555" stroke-width="1.2"/>
<line x1="594.8" y1="250.8" x2="605.3" y2="250.8" stroke="#555" stroke-width="1.2"/>
<line x1="594.8" y1="227.5" x2="605.3" y2="227.5" stroke="#555" stroke-width="1.2"/>
<line x1="594.8" y1="204.2" x2="605.3" y2="204.2" stroke="#555" stroke-width="1.2"/>
<line x1="594.8" y1="181.0" x2="605.3" y2="181.0" stroke="#555" stroke-width="1.2"/>
<line x1="610.5" y1="326.2" x2="610.5" y2="336.7" stroke="#555" stroke-width="1.2"/>
<line x1="633.9" y1="326.2" x2="633.9" y2="336.7" stroke="#555" stroke-width="1.2"/>
<line x1="657.3" y1="326.2" x2="657.3" y2="336.7" stroke="#555" stroke-width="1.2"/>
<line x1="680.6" y1="326.2" x2="680.6" y2="336.7" stroke="#555" stroke-width="1.2"/>
<line x1="704.0" y1="326.2" x2="704.0" y2="336.7" stroke="#555" stroke-width="1.2"/>
<line x1="727.4" y1="326.2" x2="727.4" y2="336.7" stroke="#555" stroke-width="1.2"/>
<line x1="750.8" y1="326.2" x2="750.8" y2="336.7" stroke="#555" stroke-width="1.2"/>
<text x="630.7" y="192.9" textLength="105.3" lengthAdjust="spacingAndGlyphs" font-family="Liberation Sans" font-weight="bold" font-size="12.4" fill="#111" stroke="#111" stroke-width="0.25"><tspan font-style="italic">cathl</tspan> - R² = 66.30%</text>
<text transform="translate(35,148.1) rotate(-90)" text-anchor="middle" font-family="Liberation Sans" font-size="12" fill="#222">0</text>
<text transform="translate(35,124.8) rotate(-90)" text-anchor="middle" font-family="Liberation Sans" font-size="12" fill="#222">1</text>
<text transform="translate(35,101.5) rotate(-90)" text-anchor="middle" font-family="Liberation Sans" font-size="12" fill="#222">2</text>
<text transform="translate(35,78.2) rotate(-90)" text-anchor="middle" font-family="Liberation Sans" font-size="12" fill="#222">3</text>
<text transform="translate(35,54.9) rotate(-90)" text-anchor="middle" font-family="Liberation Sans" font-size="12" fill="#222">4</text>
<text transform="translate(35,31.6) rotate(-90)" text-anchor="middle" font-family="Liberation Sans" font-size="12" fill="#222">5</text>
<text transform="translate(35,8.3) rotate(-90)" text-anchor="middle" font-family="Liberation Sans" font-size="12" fill="#222">6</text>
<text transform="translate(11.5,82.8) rotate(-90)" text-anchor="middle" font-family="Liberation Sans" font-size="12.5" fill="#222">Gene expression level</text>
<text transform="translate(35,320.5) rotate(-90)" text-anchor="middle" font-family="Liberation Sans" font-size="12" fill="#222">0</text>
<text transform="translate(35,297.2) rotate(-90)" text-anchor="middle" font-family="Liberation Sans" font-size="12" fill="#222">1</text>
<text transform="translate(35,274.0) rotate(-90)" text-anchor="middle" font-family="Liberation Sans" font-size="12" fill="#222">2</text>
<text transform="translate(35,250.8) rotate(-90)" text-anchor="middle" font-family="Liberation Sans" font-size="12" fill="#222">3</text>
<text transform="translate(35,227.5) rotate(-90)" text-anchor="middle" font-family="Liberation Sans" font-size="12" fill="#222">4</text>
<text transform="translate(35,204.2) rotate(-90)" text-anchor="middle" font-family="Liberation Sans" font-size="12" fill="#222">5</text>
<text transform="translate(35,181.0) rotate(-90)" text-anchor="middle" font-family="Liberation Sans" font-size="12" fill="#222">6</text>
<text transform="translate(11.5,251.7) rotate(-90)" text-anchor="middle" font-family="Liberation Sans" font-size="12.5" fill="#222">Gene expression level</text>
<text x="67.6" y="363" text-anchor="middle" font-family="Liberation Sans" font-size="12.5" fill="#222">0</text>
<text x="114.2" y="363" text-anchor="middle" font-family="Liberation Sans" font-size="12.5" fill="#222">20</text>
<text x="160.8" y="363" text-anchor="middle" font-family="Liberation Sans" font-size="12.5" fill="#222">40</text>
<text x="207.4" y="363" text-anchor="middle" font-family="Liberation Sans" font-size="12.5" fill="#222">60</text>
<text x="137.5" y="380.2" text-anchor="middle" font-family="Liberation Sans" font-size="12.5" fill="#222">time (days)</text>
<text x="246.3" y="363" text-anchor="middle" font-family="Liberation Sans" font-size="12.5" fill="#222">0</text>
<text x="293.0" y="363" text-anchor="middle" font-family="Liberation Sans" font-size="12.5" fill="#222">20</text>
<text x="339.7" y="363" text-anchor="middle" font-family="Liberation Sans" font-size="12.5" fill="#222">40</text>
<text x="386.4" y="363" text-anchor="middle" font-family="Liberation Sans" font-size="12.5" fill="#222">60</text>
<text x="316.4" y="380.2" text-anchor="middle" font-family="Liberation Sans" font-size="12.5" fill="#222">time (days)</text>
<text x="429.0" y="363" text-anchor="middle" font-family="Liberation Sans" font-size="12.5" fill="#222">0</text>
<text x="475.5" y="363" text-anchor="middle" font-family="Liberation Sans" font-size="12.5" fill="#222">20</text>
<text x="522.0" y="363" text-anchor="middle" font-family="Liberation Sans" font-size="12.5" fill="#222">40</text>
<text x="568.5" y="363" text-anchor="middle" font-family="Liberation Sans" font-size="12.5" fill="#222">60</text>
<text x="498.8" y="380.2" text-anchor="middle" font-family="Liberation Sans" font-size="12.5" fill="#222">time (days)</text>
<text x="610.5" y="363" text-anchor="middle" font-family="Liberation Sans" font-size="12.5" fill="#222">0</text>
<text x="657.3" y="363" text-anchor="middle" font-family="Liberation Sans" font-size="12.5" fill="#222">20</text>
<text x="704.0" y="363" text-anchor="middle" font-family="Liberation Sans" font-size="12.5" fill="#222">40</text>
<text x="750.8" y="363" text-anchor="middle" font-family="Liberation Sans" font-size="12.5" fill="#222">60</text>
<text x="680.6" y="380.2" text-anchor="middle" font-family="Liberation Sans" font-size="12.5" fill="#222">time (days)</text>
</svg>
</body></html>
